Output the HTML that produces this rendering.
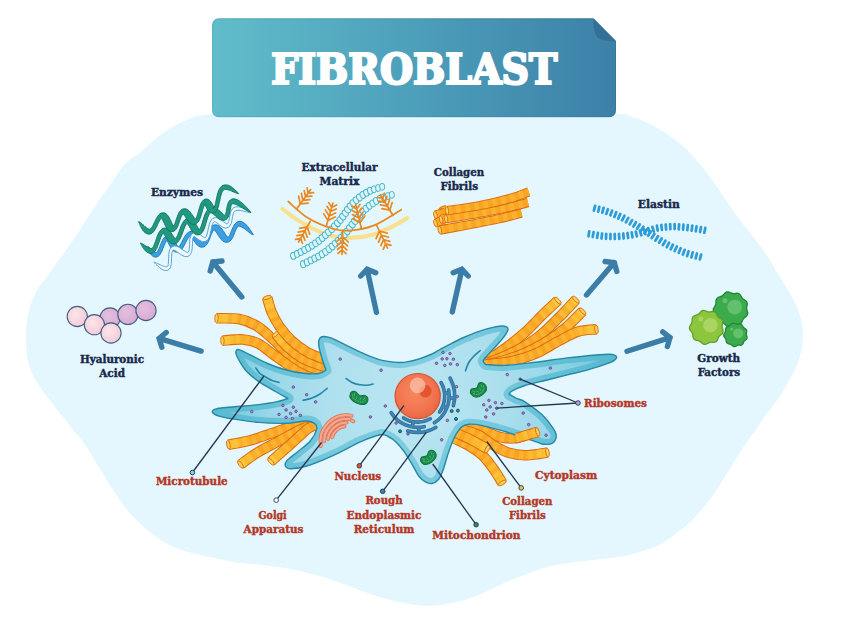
<!DOCTYPE html>
<html lang="en"><head><meta charset="utf-8"><title>Fibroblast</title>
<style>
html,body{margin:0;padding:0;background:#fff;}
body{width:848px;height:617px;overflow:hidden;}
svg{display:block;}
</style></head><body>
<svg width="848" height="617" viewBox="0 0 848 617">
<defs>
<linearGradient id="bn" x1="0" x2="1" y1="0" y2="0"><stop offset="0" stop-color="#61bdca"/><stop offset="0.5" stop-color="#4d9fba"/><stop offset="1" stop-color="#3c80a8"/></linearGradient>
<linearGradient id="bne" x1="0" x2="1" y1="0" y2="0"><stop offset="0" stop-color="#4aa6b6"/><stop offset="1" stop-color="#2f6c93"/></linearGradient>
<clipPath id="cc"><path d="M288 398.5C286.1 397.4 281.2 394.9 276.3 392C271.4 389.1 263.6 384.9 258.5 381.4C253.4 377.8 249.3 374.3 246 370.7C242.7 367.1 240.3 362.4 238.6 359.5C236.9 356.6 236.2 354.7 235.9 353.2C235.6 351.7 236.1 350.9 236.6 350.3C237.1 349.7 237 349 239.2 349.7C241.4 350.4 244.9 352.3 249.6 354.6C254.3 356.9 261.4 361 267.4 363.5C273.3 366 279.4 368.2 285.3 369.8C291.2 371.4 297.5 372.7 303.1 373.3C308.7 373.9 315.2 374.1 319 373.5C322.8 372.9 324.8 370.6 326 370C325.5 368.5 323.9 364.6 322.8 361C321.7 357.4 320 351.4 319.3 348.3C318.6 345.2 318.5 344.3 318.6 342.6C318.7 340.9 319.2 339 320 338C320.8 337 321.9 336.6 323.3 336.5C324.7 336.4 326.3 336.6 328.3 337.2C330.3 337.8 330.7 337.6 335.4 339.8C340.1 342 349.3 347.1 356.6 350.4C363.9 353.7 372.1 357.6 379.2 359.6C386.3 361.6 393.8 362.2 399 362.5C404.2 362.8 406.9 361.8 410.4 361.2C413.9 360.6 416.4 359.8 420 358.6C423.6 357.4 428.6 355.5 431.9 354C435.2 352.5 437.1 351.1 440 349.5C442.9 347.9 445.2 346.6 449.2 344.6C453.1 342.6 458.8 339.6 463.7 337.5C468.6 335.4 473.4 333.4 478.3 331.7C483.2 330 489 328.3 492.9 327.4C496.8 326.4 499.4 326.1 501.7 326C504 325.9 505.4 326.3 506.5 326.9C507.6 327.5 508.2 328.3 508 329.6C507.8 330.9 506.6 332.8 505.3 334.8C504 336.8 502.3 339 500.2 341.4C498.1 343.8 495.2 346.8 492.9 349.4C490.6 351.9 487.8 354.8 486.2 356.7C484.6 358.6 483.3 359.7 483.2 361C483.1 362.3 485.2 363.9 485.6 364.5C488.6 364.6 495.4 365.8 503.7 365.4C512 365 524.9 363.4 535.5 362.2C546.1 360.9 556.8 359.1 567.4 357.9C578 356.6 592.3 355.3 599.2 354.7C606.1 354.1 606.4 354.1 609 354.2C611.6 354.3 613.3 354.7 614.6 355.2C615.9 355.7 616.7 356.5 616.7 357.3C616.7 358.1 616 359 614.8 359.9C613.6 360.8 613.7 361.2 609.3 362.8C604.9 364.4 595.6 367.6 588.6 369.6C581.6 371.6 574.5 373.1 567.4 374.9C560.3 376.7 553.2 378.4 546.1 380.2C539 382 530.5 383.7 524.9 385.5C519.2 387.3 514.9 389.4 512.2 390.8C509.6 392.2 509.5 393.6 509 394.2C510.2 394.9 513.8 397 516.4 398.3C519 399.6 520.6 399.1 524.9 401.8C529.1 404.5 537.3 410.4 541.9 414.6C546.5 418.9 550.1 423.8 552.5 427.3C554.9 430.8 556.3 433.2 556.3 435.8C556.3 438.4 554.5 441.8 552.5 443.2C550.5 444.6 546.7 444.5 544 444.3C541.3 444.1 540.3 443.2 536.2 441.8C532.1 440.4 524.6 438 519.2 436.2C513.8 434.4 509.8 433 503.7 431.2C497.6 429.4 488.3 426.8 482.5 425.6C476.7 424.4 472.4 424 469 424.2C465.6 424.4 464 425.2 462 426.6C460 428 458.7 430.1 457.2 432.4C455.7 434.7 454.5 437 453 440.5C451.5 444 449.7 448.6 448.1 453.5C446.5 458.4 444.8 465.4 443.2 469.7C441.6 474 440.3 477.2 438.4 479.5C436.5 481.8 434.1 483.1 431.9 483.5C429.7 483.9 427.6 483.1 425.4 481.9C423.2 480.7 421.1 479 418.9 476.2C416.7 473.4 414.8 468.9 412.4 464.9C410 460.8 407 455.7 404.3 451.9C401.6 448.1 398.9 444.8 396.2 442.2C393.5 439.6 390.8 437.7 388.1 436.5C385.4 435.3 384.5 433.9 379.9 434.8C375.3 435.7 368 438.5 360.3 441.9C352.6 445.3 342.4 451.3 333.5 455.3C324.6 459.3 313.9 463.8 306.8 466C299.7 468.2 294.3 468.7 290.7 468.7C287.1 468.7 286 467.4 285.4 466C284.8 464.6 284.9 463 287 460.6C289.1 458.2 293.9 455 297.8 451.7C301.7 448.4 307.2 444.7 310.3 441C313.4 437.3 315.9 432.3 316.6 429.4C317.4 426.5 316.4 425 314.8 423.6C313.2 422.2 311.7 421.1 306.8 421C301.9 420.9 293.4 423.1 285.3 423.3C277.2 423.5 267.4 423.1 258.5 422.4C249.6 421.6 238.2 419.8 231.8 418.8C225.4 417.8 222.9 417.1 220 416.4C217.1 415.7 215.9 415.1 214.6 414.4C213.3 413.7 212.6 412.7 212.4 412C212.2 411.3 212.4 410.6 213.2 410C214 409.4 215.4 409 217 408.6C218.6 408.2 218.9 408.1 222.8 407.7C226.8 407.3 234.8 406.8 240.7 406.3C246.6 405.8 252.6 405.3 258.5 404.6C264.4 403.9 271.4 402.9 276.3 401.9C281.2 400.9 286.1 399.1 288 398.5Z"/></clipPath>
<radialGradient id="cg" gradientUnits="userSpaceOnUse" cx="410" cy="400" r="205" gradientTransform="translate(0 -80) scale(1 1.2)"><stop offset="0" stop-color="#bbe6f2"/><stop offset="0.4" stop-color="#aee0ee"/><stop offset="0.65" stop-color="#9cd9ea"/><stop offset="0.85" stop-color="#80cde0"/><stop offset="1" stop-color="#64c0d6"/></radialGradient>
<radialGradient id="cb" gradientUnits="userSpaceOnUse" cx="410" cy="400" r="205" gradientTransform="translate(0 -80) scale(1 1.2)"><stop offset="0" stop-color="#84cfe1"/><stop offset="0.45" stop-color="#74c7dc"/><stop offset="0.7" stop-color="#64c0d6"/><stop offset="1" stop-color="#56b9d0"/></radialGradient>
<radialGradient id="ng" cx="0.45" cy="0.42" r="0.62"><stop offset="0" stop-color="#f6895f"/><stop offset="0.65" stop-color="#f27550"/><stop offset="1" stop-color="#ea6440"/></radialGradient>
<radialGradient id="hp" cx="0.4" cy="0.4" r="0.7"><stop offset="0" stop-color="#fce6ec"/><stop offset="1" stop-color="#f2c6d6"/></radialGradient>
<radialGradient id="hv" cx="0.4" cy="0.4" r="0.7"><stop offset="0" stop-color="#e4bfdf"/><stop offset="1" stop-color="#d6a9d3"/></radialGradient>
</defs>
<rect width="848" height="617" fill="#ffffff"/>
<path d="M213.3 114C193.2 115.5 197.4 116 189.2 119.1C180.9 122.2 171.8 127.1 163.8 132.5C155.8 137.9 147.7 146.2 141.1 151.6C134.5 157 129.5 159 124.2 164.7C118.9 170.4 114.4 178.8 109.5 185.8C104.6 192.8 99.6 199.4 94.7 206.8C89.8 214.2 84.9 222.6 80 230C75.1 237.4 70 244.3 65.3 251C60.6 257.7 56 264.4 52 270C48 275.6 44.2 279.6 41 284.3C37.8 289.1 35.1 293.7 33 298.5C30.9 303.3 29.5 307.1 28.3 313C27.1 318.9 26.2 326.9 26 334C25.8 341.1 26.2 349.8 27 355.6C27.8 361.4 28.9 364.6 30.5 369C32.1 373.4 33.7 377.3 36.5 382C39.3 386.7 43.1 391.6 47.2 397.1C51.3 402.6 57 409.3 61.3 414.8C65.6 420.3 69.2 425.1 73.1 430C77 434.9 80.2 437.9 84.5 444.1C88.8 450.4 94.2 459.7 99.1 467.5C104 475.3 108.8 483.5 113.7 490.8C118.6 498.1 123 504.9 128.3 511.2C133.7 517.5 139.5 523.4 145.8 528.7C152.1 534.1 160 539.7 166.2 543.3C172.4 546.9 176 548.2 183 550.5C190 552.8 199.4 554.8 208.3 556.8C217.2 558.8 227.2 561.1 236.6 562.5C246 563.9 255.5 564.1 264.9 565.3C274.3 566.5 283.8 567.6 293.2 569.5C302.6 571.4 312.1 573.8 321.5 576.6C330.9 579.4 340.4 583.2 349.8 586.5C359.2 589.8 368.7 593.6 378.1 596.4C387.5 599.2 397.8 601.9 406.4 603.5C415 605.1 422.4 605.9 430 605.8C437.6 605.7 444.4 604.6 452 603C459.6 601.4 465.3 600.2 475.5 596.2C485.7 592.2 500.6 584.2 513.2 579.2C525.8 574.2 538.3 569.1 550.9 566C563.5 562.9 576.9 562 588.7 560.4C600.5 558.8 613.1 557.9 621.9 556.4C630.7 554.9 634.8 553.6 641.3 551.6C647.8 549.6 654.7 547.5 660.8 544.3C666.9 541 672.5 536.1 677.8 532.1C683.1 528.1 687.5 524.9 692.4 520C697.3 515.1 702.5 508.6 707 502.9C711.5 497.2 715.1 492 719.1 485.9C723.1 479.8 727.2 473 731.3 466.5C735.4 460 739.5 453.1 743.5 447C747.5 440.9 752.3 434.7 755.6 430C758.9 425.3 759.6 423.8 763.1 418.9C766.6 414 772.5 406.9 776.7 400.8C780.9 394.8 784.7 388.7 788.1 382.6C791.5 376.6 794.9 370.6 797.2 364.5C799.6 358.4 801.3 352.4 802.2 346.3C803.1 340.2 803.4 334.1 802.8 328.2C802.2 322.3 800.3 316.2 798.5 311C796.7 305.8 794.9 302.8 791.9 297.2C788.9 291.6 784.2 284.2 780.3 277.7C776.4 271.2 772.8 264.8 768.6 258.3C764.4 251.8 759.9 245.4 755 238.9C750.1 232.4 744.2 225.7 739.4 219.4C734.6 213.1 730.5 207.1 726.4 201.1C722.3 195.1 718.6 189.1 714.7 183.6C710.8 178.1 707 173 703.1 168.1C699.2 163.2 695.6 158.8 691.4 154.4C687.2 150 682.7 145.7 677.8 141.8C672.9 137.9 667.4 134.3 662.2 131.1C657 127.9 651.9 124.8 646.7 122.4C641.5 120 636.3 118 631.1 116.5C625.9 115 634.1 114.7 615.6 113.6C597.1 112.5 553.6 110.8 520 110C486.4 109.2 449 109 414 109C379 109 343.4 109.2 310 110C276.6 110.8 233.4 112.5 213.3 114Z" fill="#e4f7fe"/>
<path d="M219.1 18.8H593.5L615.5 41V110.2Q615.5 116.7 609 116.7H219.1Q212.6 116.7 212.6 110.2V25.3Q212.6 18.8 219.1 18.8Z" fill="url(#bn)" stroke="url(#bne)" stroke-width="0.9"/>
<path d="M593.5 18.8L615.5 41Q603 42 597.5 37.5Q593 32 593.5 18.8Z" fill="#346f98"/>
<text x="414.3" y="84.1" text-anchor="middle" font-family="'DejaVu Serif Condensed','DejaVu Serif','Liberation Serif',serif" font-weight="bold" font-size="42" fill="#fff" stroke="#fff" stroke-width="2.2" stroke-linejoin="miter" textLength="286" lengthAdjust="spacingAndGlyphs">FIBROBLAST</text>
<path d="M241.8 296.9L212.8 262M222 261L212.8 262L210.2 270.9" fill="none" stroke="#3b7da6" stroke-width="5.4" stroke-linecap="round" stroke-linejoin="miter" stroke-miterlimit="10"/>
<path d="M376.4 312.3L367.1 269.3M375.7 272.7L367.1 269.3L360.7 276" fill="none" stroke="#3b7da6" stroke-width="5.4" stroke-linecap="round" stroke-linejoin="miter" stroke-miterlimit="10"/>
<path d="M452.3 311.9L461.9 269.3M468.2 276L461.9 269.3L453.2 272.7" fill="none" stroke="#3b7da6" stroke-width="5.4" stroke-linecap="round" stroke-linejoin="miter" stroke-miterlimit="10"/>
<path d="M586.5 295L614.3 262.6M616.8 271.5L614.3 262.6L605.1 261.5" fill="none" stroke="#3b7da6" stroke-width="5.4" stroke-linecap="round" stroke-linejoin="miter" stroke-miterlimit="10"/>
<path d="M627 351.3L670 337.6M667.4 346.5L670 337.6L662.7 331.9" fill="none" stroke="#3b7da6" stroke-width="5.4" stroke-linecap="round" stroke-linejoin="miter" stroke-miterlimit="10"/>
<path d="M201.1 351.1L159.1 338.4M166.2 332.5L159.1 338.4L161.8 347.2" fill="none" stroke="#3b7da6" stroke-width="5.4" stroke-linecap="round" stroke-linejoin="miter" stroke-miterlimit="10"/>
<path d="M312 378C310.2 376.9 304.9 373.5 301.1 371.4C297.3 369.3 293.9 368.4 289.4 365.6C284.9 362.9 279.1 358.6 273.9 354.9C268.7 351.2 263.5 346.1 258.3 343.5C253.1 340.9 248.8 340 242.8 339.5C236.8 339 225.8 340.5 222.4 340.7" fill="none" stroke="#da6f12" stroke-width="10.6" stroke-linecap="butt"/>
<path d="M312 378C310.2 376.9 304.9 373.5 301.1 371.4C297.3 369.3 293.9 368.4 289.4 365.6C284.9 362.9 279.1 358.6 273.9 354.9C268.7 351.2 263.5 346.1 258.3 343.5C253.1 340.9 248.8 340 242.8 339.5C236.8 339 225.8 340.5 222.4 340.7" fill="none" stroke="#f9a522" stroke-width="8.4" stroke-linecap="butt"/>
<path d="M312 378C310.2 376.9 304.9 373.5 301.1 371.4C297.3 369.3 293.9 368.4 289.4 365.6C284.9 362.9 279.1 358.6 273.9 354.9C268.7 351.2 263.5 346.1 258.3 343.5C253.1 340.9 248.8 340 242.8 339.5C236.8 339 225.8 340.5 222.4 340.7" fill="none" stroke="#fbb230" stroke-width="8.4" stroke-dasharray="4.6 4.6" stroke-linecap="butt"/>
<path d="M312 378C310.2 376.9 304.9 373.5 301.1 371.4C297.3 369.3 293.9 368.4 289.4 365.6C284.9 362.9 279.1 358.6 273.9 354.9C268.7 351.2 263.5 346.1 258.3 343.5C253.1 340.9 248.8 340 242.8 339.5C236.8 339 225.8 340.5 222.4 340.7" fill="none" stroke="#ffe24f" stroke-opacity="0.18" stroke-width="8.4" stroke-dasharray="0 78.6 24"/>
<path d="M312 378C310.2 376.9 304.9 373.5 301.1 371.4C297.3 369.3 293.9 368.4 289.4 365.6C284.9 362.9 279.1 358.6 273.9 354.9C268.7 351.2 263.5 346.1 258.3 343.5C253.1 340.9 248.8 340 242.8 339.5C236.8 339 225.8 340.5 222.4 340.7" fill="none" stroke="#ffe24f" stroke-opacity="0.2" stroke-width="8.4" stroke-dasharray="0 88.6 14"/>
<path d="M312 378C310.2 376.9 304.9 373.5 301.1 371.4C297.3 369.3 293.9 368.4 289.4 365.6C284.9 362.9 279.1 358.6 273.9 354.9C268.7 351.2 263.5 346.1 258.3 343.5C253.1 340.9 248.8 340 242.8 339.5C236.8 339 225.8 340.5 222.4 340.7" fill="none" stroke="#ffe24f" stroke-opacity="0.22" stroke-width="8.4" stroke-dasharray="0 95.6 7"/>
<ellipse cx="222.4" cy="340.7" rx="1.7" ry="4.4" transform="rotate(-3.4 222.4 340.7)" fill="#fdd05c" stroke="#da6f12" stroke-width="0.9"/>
<path d="M330 374C328.8 373.6 326.7 373 322.5 371.4C318.3 369.8 310.8 367.7 305 364.6C299.2 361.5 293 357.3 287.5 352.9C282 348.5 277.1 342.8 271.9 338.3C266.7 333.8 261.9 328.9 256.4 325.7C250.9 322.5 245.6 320.2 238.9 319C232.2 317.8 220.2 318.4 216.5 318.3" fill="none" stroke="#da6f12" stroke-width="10.6" stroke-linecap="butt"/>
<path d="M330 374C328.8 373.6 326.7 373 322.5 371.4C318.3 369.8 310.8 367.7 305 364.6C299.2 361.5 293 357.3 287.5 352.9C282 348.5 277.1 342.8 271.9 338.3C266.7 333.8 261.9 328.9 256.4 325.7C250.9 322.5 245.6 320.2 238.9 319C232.2 317.8 220.2 318.4 216.5 318.3" fill="none" stroke="#f9a522" stroke-width="8.4" stroke-linecap="butt"/>
<path d="M330 374C328.8 373.6 326.7 373 322.5 371.4C318.3 369.8 310.8 367.7 305 364.6C299.2 361.5 293 357.3 287.5 352.9C282 348.5 277.1 342.8 271.9 338.3C266.7 333.8 261.9 328.9 256.4 325.7C250.9 322.5 245.6 320.2 238.9 319C232.2 317.8 220.2 318.4 216.5 318.3" fill="none" stroke="#fbb230" stroke-width="8.4" stroke-dasharray="4.6 4.6" stroke-linecap="butt"/>
<path d="M330 374C328.8 373.6 326.7 373 322.5 371.4C318.3 369.8 310.8 367.7 305 364.6C299.2 361.5 293 357.3 287.5 352.9C282 348.5 277.1 342.8 271.9 338.3C266.7 333.8 261.9 328.9 256.4 325.7C250.9 322.5 245.6 320.2 238.9 319C232.2 317.8 220.2 318.4 216.5 318.3" fill="none" stroke="#ffe24f" stroke-opacity="0.18" stroke-width="8.4" stroke-dasharray="0 108.5 24"/>
<path d="M330 374C328.8 373.6 326.7 373 322.5 371.4C318.3 369.8 310.8 367.7 305 364.6C299.2 361.5 293 357.3 287.5 352.9C282 348.5 277.1 342.8 271.9 338.3C266.7 333.8 261.9 328.9 256.4 325.7C250.9 322.5 245.6 320.2 238.9 319C232.2 317.8 220.2 318.4 216.5 318.3" fill="none" stroke="#ffe24f" stroke-opacity="0.2" stroke-width="8.4" stroke-dasharray="0 118.5 14"/>
<path d="M330 374C328.8 373.6 326.7 373 322.5 371.4C318.3 369.8 310.8 367.7 305 364.6C299.2 361.5 293 357.3 287.5 352.9C282 348.5 277.1 342.8 271.9 338.3C266.7 333.8 261.9 328.9 256.4 325.7C250.9 322.5 245.6 320.2 238.9 319C232.2 317.8 220.2 318.4 216.5 318.3" fill="none" stroke="#ffe24f" stroke-opacity="0.22" stroke-width="8.4" stroke-dasharray="0 125.5 7"/>
<ellipse cx="216.5" cy="318.3" rx="1.7" ry="4.4" transform="rotate(1.8 216.5 318.3)" fill="#fdd05c" stroke="#da6f12" stroke-width="0.9"/>
<path d="M330 369C328.4 368.4 325.1 367.3 320.6 365.6C316.1 363.9 308.5 361.8 303 358.7C297.5 355.6 292 351.1 287.5 347C283 342.9 277.8 336.2 275.8 334" fill="none" stroke="#da6f12" stroke-width="10.6" stroke-linecap="butt"/>
<path d="M330 369C328.4 368.4 325.1 367.3 320.6 365.6C316.1 363.9 308.5 361.8 303 358.7C297.5 355.6 292 351.1 287.5 347C283 342.9 277.8 336.2 275.8 334" fill="none" stroke="#f9a522" stroke-width="8.4" stroke-linecap="butt"/>
<path d="M330 369C328.4 368.4 325.1 367.3 320.6 365.6C316.1 363.9 308.5 361.8 303 358.7C297.5 355.6 292 351.1 287.5 347C283 342.9 277.8 336.2 275.8 334" fill="none" stroke="#fbb230" stroke-width="8.4" stroke-dasharray="4.6 4.6" stroke-linecap="butt"/>
<path d="M330 369C328.4 368.4 325.1 367.3 320.6 365.6C316.1 363.9 308.5 361.8 303 358.7C297.5 355.6 292 351.1 287.5 347C283 342.9 277.8 336.2 275.8 334" fill="none" stroke="#ffe24f" stroke-opacity="0.18" stroke-width="8.4" stroke-dasharray="0 43.9 24"/>
<path d="M330 369C328.4 368.4 325.1 367.3 320.6 365.6C316.1 363.9 308.5 361.8 303 358.7C297.5 355.6 292 351.1 287.5 347C283 342.9 277.8 336.2 275.8 334" fill="none" stroke="#ffe24f" stroke-opacity="0.2" stroke-width="8.4" stroke-dasharray="0 53.9 14"/>
<path d="M330 369C328.4 368.4 325.1 367.3 320.6 365.6C316.1 363.9 308.5 361.8 303 358.7C297.5 355.6 292 351.1 287.5 347C283 342.9 277.8 336.2 275.8 334" fill="none" stroke="#ffe24f" stroke-opacity="0.22" stroke-width="8.4" stroke-dasharray="0 60.9 7"/>
<ellipse cx="275.8" cy="334" rx="1.7" ry="4.4" transform="rotate(48 275.8 334)" fill="#fdd05c" stroke="#da6f12" stroke-width="0.9"/>
<path d="M330 361C328.4 360.5 324.4 359.3 320.6 357.8C316.8 356.3 311.9 354.9 307 352C302.1 349.1 295.9 344.5 291.4 340.3C286.8 336.1 282.9 331.2 279.7 326.7C276.5 322.1 274.1 317.9 272 313C269.9 308.1 267.9 300.1 267.1 297.5" fill="none" stroke="#da6f12" stroke-width="10.6" stroke-linecap="butt"/>
<path d="M330 361C328.4 360.5 324.4 359.3 320.6 357.8C316.8 356.3 311.9 354.9 307 352C302.1 349.1 295.9 344.5 291.4 340.3C286.8 336.1 282.9 331.2 279.7 326.7C276.5 322.1 274.1 317.9 272 313C269.9 308.1 267.9 300.1 267.1 297.5" fill="none" stroke="#f9a522" stroke-width="8.4" stroke-linecap="butt"/>
<path d="M330 361C328.4 360.5 324.4 359.3 320.6 357.8C316.8 356.3 311.9 354.9 307 352C302.1 349.1 295.9 344.5 291.4 340.3C286.8 336.1 282.9 331.2 279.7 326.7C276.5 322.1 274.1 317.9 272 313C269.9 308.1 267.9 300.1 267.1 297.5" fill="none" stroke="#fbb230" stroke-width="8.4" stroke-dasharray="4.6 4.6" stroke-linecap="butt"/>
<path d="M330 361C328.4 360.5 324.4 359.3 320.6 357.8C316.8 356.3 311.9 354.9 307 352C302.1 349.1 295.9 344.5 291.4 340.3C286.8 336.1 282.9 331.2 279.7 326.7C276.5 322.1 274.1 317.9 272 313C269.9 308.1 267.9 300.1 267.1 297.5" fill="none" stroke="#ffe24f" stroke-opacity="0.18" stroke-width="8.4" stroke-dasharray="0 72.3 24"/>
<path d="M330 361C328.4 360.5 324.4 359.3 320.6 357.8C316.8 356.3 311.9 354.9 307 352C302.1 349.1 295.9 344.5 291.4 340.3C286.8 336.1 282.9 331.2 279.7 326.7C276.5 322.1 274.1 317.9 272 313C269.9 308.1 267.9 300.1 267.1 297.5" fill="none" stroke="#ffe24f" stroke-opacity="0.2" stroke-width="8.4" stroke-dasharray="0 82.3 14"/>
<path d="M330 361C328.4 360.5 324.4 359.3 320.6 357.8C316.8 356.3 311.9 354.9 307 352C302.1 349.1 295.9 344.5 291.4 340.3C286.8 336.1 282.9 331.2 279.7 326.7C276.5 322.1 274.1 317.9 272 313C269.9 308.1 267.9 300.1 267.1 297.5" fill="none" stroke="#ffe24f" stroke-opacity="0.22" stroke-width="8.4" stroke-dasharray="0 89.3 7"/>
<ellipse cx="267.1" cy="297.5" rx="1.7" ry="4.4" transform="rotate(72.5 267.1 297.5)" fill="#fdd05c" stroke="#da6f12" stroke-width="0.9"/>
<path d="M484 362C485.1 361.3 486.9 360.5 490.9 357.9C494.9 355.3 502.2 350.5 507.9 346.3C513.6 342.1 519.2 337.6 524.9 332.5C530.6 327.4 536.4 320.8 541.9 315.5C547.4 310.2 555.1 303.1 557.8 300.6" fill="none" stroke="#da6f12" stroke-width="10.6" stroke-linecap="butt"/>
<path d="M484 362C485.1 361.3 486.9 360.5 490.9 357.9C494.9 355.3 502.2 350.5 507.9 346.3C513.6 342.1 519.2 337.6 524.9 332.5C530.6 327.4 536.4 320.8 541.9 315.5C547.4 310.2 555.1 303.1 557.8 300.6" fill="none" stroke="#f9a522" stroke-width="8.4" stroke-linecap="butt"/>
<path d="M484 362C485.1 361.3 486.9 360.5 490.9 357.9C494.9 355.3 502.2 350.5 507.9 346.3C513.6 342.1 519.2 337.6 524.9 332.5C530.6 327.4 536.4 320.8 541.9 315.5C547.4 310.2 555.1 303.1 557.8 300.6" fill="none" stroke="#fbb230" stroke-width="8.4" stroke-dasharray="4.6 4.6" stroke-linecap="butt"/>
<path d="M484 362C485.1 361.3 486.9 360.5 490.9 357.9C494.9 355.3 502.2 350.5 507.9 346.3C513.6 342.1 519.2 337.6 524.9 332.5C530.6 327.4 536.4 320.8 541.9 315.5C547.4 310.2 555.1 303.1 557.8 300.6" fill="none" stroke="#ffe24f" stroke-opacity="0.18" stroke-width="8.4" stroke-dasharray="0 74.4 24"/>
<path d="M484 362C485.1 361.3 486.9 360.5 490.9 357.9C494.9 355.3 502.2 350.5 507.9 346.3C513.6 342.1 519.2 337.6 524.9 332.5C530.6 327.4 536.4 320.8 541.9 315.5C547.4 310.2 555.1 303.1 557.8 300.6" fill="none" stroke="#ffe24f" stroke-opacity="0.2" stroke-width="8.4" stroke-dasharray="0 84.4 14"/>
<path d="M484 362C485.1 361.3 486.9 360.5 490.9 357.9C494.9 355.3 502.2 350.5 507.9 346.3C513.6 342.1 519.2 337.6 524.9 332.5C530.6 327.4 536.4 320.8 541.9 315.5C547.4 310.2 555.1 303.1 557.8 300.6" fill="none" stroke="#ffe24f" stroke-opacity="0.22" stroke-width="8.4" stroke-dasharray="0 91.4 7"/>
<ellipse cx="557.8" cy="300.6" rx="1.7" ry="4.4" transform="rotate(136.9 557.8 300.6)" fill="#fdd05c" stroke="#da6f12" stroke-width="0.9"/>
<path d="M484 364C485.9 363.3 489.4 362.4 495.2 360C500.9 357.6 511.1 353.5 518.5 349.4C525.9 345.3 533.1 340.9 539.8 335.6C546.5 330.3 552.9 323.6 558.9 317.6C564.9 311.6 573.1 302.6 575.9 299.6" fill="none" stroke="#da6f12" stroke-width="10.6" stroke-linecap="butt"/>
<path d="M484 364C485.9 363.3 489.4 362.4 495.2 360C500.9 357.6 511.1 353.5 518.5 349.4C525.9 345.3 533.1 340.9 539.8 335.6C546.5 330.3 552.9 323.6 558.9 317.6C564.9 311.6 573.1 302.6 575.9 299.6" fill="none" stroke="#f9a522" stroke-width="8.4" stroke-linecap="butt"/>
<path d="M484 364C485.9 363.3 489.4 362.4 495.2 360C500.9 357.6 511.1 353.5 518.5 349.4C525.9 345.3 533.1 340.9 539.8 335.6C546.5 330.3 552.9 323.6 558.9 317.6C564.9 311.6 573.1 302.6 575.9 299.6" fill="none" stroke="#fbb230" stroke-width="8.4" stroke-dasharray="4.6 4.6" stroke-linecap="butt"/>
<path d="M484 364C485.9 363.3 489.4 362.4 495.2 360C500.9 357.6 511.1 353.5 518.5 349.4C525.9 345.3 533.1 340.9 539.8 335.6C546.5 330.3 552.9 323.6 558.9 317.6C564.9 311.6 573.1 302.6 575.9 299.6" fill="none" stroke="#ffe24f" stroke-opacity="0.18" stroke-width="8.4" stroke-dasharray="0 91.9 24"/>
<path d="M484 364C485.9 363.3 489.4 362.4 495.2 360C500.9 357.6 511.1 353.5 518.5 349.4C525.9 345.3 533.1 340.9 539.8 335.6C546.5 330.3 552.9 323.6 558.9 317.6C564.9 311.6 573.1 302.6 575.9 299.6" fill="none" stroke="#ffe24f" stroke-opacity="0.2" stroke-width="8.4" stroke-dasharray="0 101.9 14"/>
<path d="M484 364C485.9 363.3 489.4 362.4 495.2 360C500.9 357.6 511.1 353.5 518.5 349.4C525.9 345.3 533.1 340.9 539.8 335.6C546.5 330.3 552.9 323.6 558.9 317.6C564.9 311.6 573.1 302.6 575.9 299.6" fill="none" stroke="#ffe24f" stroke-opacity="0.22" stroke-width="8.4" stroke-dasharray="0 108.9 7"/>
<ellipse cx="575.9" cy="299.6" rx="1.7" ry="4.4" transform="rotate(133.4 575.9 299.6)" fill="#fdd05c" stroke="#da6f12" stroke-width="0.9"/>
<path d="M484 365C486.2 364.5 491.2 363.9 497.3 362.2C503.4 360.5 512.9 357.9 520.7 354.7C528.5 351.5 536.6 347.5 544 343.1C551.4 338.7 558.8 333.5 565.2 328.2C571.6 322.9 579.7 314 582.6 311.2" fill="none" stroke="#da6f12" stroke-width="10.6" stroke-linecap="butt"/>
<path d="M484 365C486.2 364.5 491.2 363.9 497.3 362.2C503.4 360.5 512.9 357.9 520.7 354.7C528.5 351.5 536.6 347.5 544 343.1C551.4 338.7 558.8 333.5 565.2 328.2C571.6 322.9 579.7 314 582.6 311.2" fill="none" stroke="#f9a522" stroke-width="8.4" stroke-linecap="butt"/>
<path d="M484 365C486.2 364.5 491.2 363.9 497.3 362.2C503.4 360.5 512.9 357.9 520.7 354.7C528.5 351.5 536.6 347.5 544 343.1C551.4 338.7 558.8 333.5 565.2 328.2C571.6 322.9 579.7 314 582.6 311.2" fill="none" stroke="#fbb230" stroke-width="8.4" stroke-dasharray="4.6 4.6" stroke-linecap="butt"/>
<path d="M484 365C486.2 364.5 491.2 363.9 497.3 362.2C503.4 360.5 512.9 357.9 520.7 354.7C528.5 351.5 536.6 347.5 544 343.1C551.4 338.7 558.8 333.5 565.2 328.2C571.6 322.9 579.7 314 582.6 311.2" fill="none" stroke="#ffe24f" stroke-opacity="0.18" stroke-width="8.4" stroke-dasharray="0 92.5 24"/>
<path d="M484 365C486.2 364.5 491.2 363.9 497.3 362.2C503.4 360.5 512.9 357.9 520.7 354.7C528.5 351.5 536.6 347.5 544 343.1C551.4 338.7 558.8 333.5 565.2 328.2C571.6 322.9 579.7 314 582.6 311.2" fill="none" stroke="#ffe24f" stroke-opacity="0.2" stroke-width="8.4" stroke-dasharray="0 102.5 14"/>
<path d="M484 365C486.2 364.5 491.2 363.9 497.3 362.2C503.4 360.5 512.9 357.9 520.7 354.7C528.5 351.5 536.6 347.5 544 343.1C551.4 338.7 558.8 333.5 565.2 328.2C571.6 322.9 579.7 314 582.6 311.2" fill="none" stroke="#ffe24f" stroke-opacity="0.22" stroke-width="8.4" stroke-dasharray="0 109.5 7"/>
<ellipse cx="582.6" cy="311.2" rx="1.7" ry="4.4" transform="rotate(135.7 582.6 311.2)" fill="#fdd05c" stroke="#da6f12" stroke-width="0.9"/>
<path d="M484 365C485.9 364.7 490.5 364 495.2 363.4C499.9 362.8 505.5 362.7 512.2 361.1C518.9 359.5 527.7 357.1 535.5 353.7C543.3 350.3 551.8 344.6 558.9 340.9C566 337.2 571.8 333.5 578 331.6C584.2 329.7 593.3 329.7 596.4 329.3" fill="none" stroke="#da6f12" stroke-width="10.6" stroke-linecap="butt"/>
<path d="M484 365C485.9 364.7 490.5 364 495.2 363.4C499.9 362.8 505.5 362.7 512.2 361.1C518.9 359.5 527.7 357.1 535.5 353.7C543.3 350.3 551.8 344.6 558.9 340.9C566 337.2 571.8 333.5 578 331.6C584.2 329.7 593.3 329.7 596.4 329.3" fill="none" stroke="#f9a522" stroke-width="8.4" stroke-linecap="butt"/>
<path d="M484 365C485.9 364.7 490.5 364 495.2 363.4C499.9 362.8 505.5 362.7 512.2 361.1C518.9 359.5 527.7 357.1 535.5 353.7C543.3 350.3 551.8 344.6 558.9 340.9C566 337.2 571.8 333.5 578 331.6C584.2 329.7 593.3 329.7 596.4 329.3" fill="none" stroke="#fbb230" stroke-width="8.4" stroke-dasharray="4.6 4.6" stroke-linecap="butt"/>
<path d="M484 365C485.9 364.7 490.5 364 495.2 363.4C499.9 362.8 505.5 362.7 512.2 361.1C518.9 359.5 527.7 357.1 535.5 353.7C543.3 350.3 551.8 344.6 558.9 340.9C566 337.2 571.8 333.5 578 331.6C584.2 329.7 593.3 329.7 596.4 329.3" fill="none" stroke="#ffe24f" stroke-opacity="0.18" stroke-width="8.4" stroke-dasharray="0 97.5 24"/>
<path d="M484 365C485.9 364.7 490.5 364 495.2 363.4C499.9 362.8 505.5 362.7 512.2 361.1C518.9 359.5 527.7 357.1 535.5 353.7C543.3 350.3 551.8 344.6 558.9 340.9C566 337.2 571.8 333.5 578 331.6C584.2 329.7 593.3 329.7 596.4 329.3" fill="none" stroke="#ffe24f" stroke-opacity="0.2" stroke-width="8.4" stroke-dasharray="0 107.5 14"/>
<path d="M484 365C485.9 364.7 490.5 364 495.2 363.4C499.9 362.8 505.5 362.7 512.2 361.1C518.9 359.5 527.7 357.1 535.5 353.7C543.3 350.3 551.8 344.6 558.9 340.9C566 337.2 571.8 333.5 578 331.6C584.2 329.7 593.3 329.7 596.4 329.3" fill="none" stroke="#ffe24f" stroke-opacity="0.22" stroke-width="8.4" stroke-dasharray="0 114.5 7"/>
<ellipse cx="596.4" cy="329.3" rx="1.7" ry="4.4" transform="rotate(172.9 596.4 329.3)" fill="#fdd05c" stroke="#da6f12" stroke-width="0.9"/>
<path d="M318 423C315.9 423.2 309.8 423.6 305.6 424.2C301.4 424.8 298.5 424.8 292.8 426.3C287.1 427.8 278.7 431 271.6 433.3C264.5 435.6 257.6 438.5 250.4 440.4C243.2 442.3 232.1 444 228.4 444.7" fill="none" stroke="#da6f12" stroke-width="10.6" stroke-linecap="butt"/>
<path d="M318 423C315.9 423.2 309.8 423.6 305.6 424.2C301.4 424.8 298.5 424.8 292.8 426.3C287.1 427.8 278.7 431 271.6 433.3C264.5 435.6 257.6 438.5 250.4 440.4C243.2 442.3 232.1 444 228.4 444.7" fill="none" stroke="#f9a522" stroke-width="8.4" stroke-linecap="butt"/>
<path d="M318 423C315.9 423.2 309.8 423.6 305.6 424.2C301.4 424.8 298.5 424.8 292.8 426.3C287.1 427.8 278.7 431 271.6 433.3C264.5 435.6 257.6 438.5 250.4 440.4C243.2 442.3 232.1 444 228.4 444.7" fill="none" stroke="#fbb230" stroke-width="8.4" stroke-dasharray="4.6 4.6" stroke-linecap="butt"/>
<path d="M318 423C315.9 423.2 309.8 423.6 305.6 424.2C301.4 424.8 298.5 424.8 292.8 426.3C287.1 427.8 278.7 431 271.6 433.3C264.5 435.6 257.6 438.5 250.4 440.4C243.2 442.3 232.1 444 228.4 444.7" fill="none" stroke="#ffe24f" stroke-opacity="0.18" stroke-width="8.4" stroke-dasharray="0 70.6 24"/>
<path d="M318 423C315.9 423.2 309.8 423.6 305.6 424.2C301.4 424.8 298.5 424.8 292.8 426.3C287.1 427.8 278.7 431 271.6 433.3C264.5 435.6 257.6 438.5 250.4 440.4C243.2 442.3 232.1 444 228.4 444.7" fill="none" stroke="#ffe24f" stroke-opacity="0.2" stroke-width="8.4" stroke-dasharray="0 80.6 14"/>
<path d="M318 423C315.9 423.2 309.8 423.6 305.6 424.2C301.4 424.8 298.5 424.8 292.8 426.3C287.1 427.8 278.7 431 271.6 433.3C264.5 435.6 257.6 438.5 250.4 440.4C243.2 442.3 232.1 444 228.4 444.7" fill="none" stroke="#ffe24f" stroke-opacity="0.22" stroke-width="8.4" stroke-dasharray="0 87.6 7"/>
<ellipse cx="228.4" cy="444.7" rx="1.7" ry="4.4" transform="rotate(-11.1 228.4 444.7)" fill="#fdd05c" stroke="#da6f12" stroke-width="0.9"/>
<path d="M318 424C316.4 424.5 311.4 426 308.4 427C305.4 428 304.8 427.4 299.9 429.8C294.9 432.2 285.8 437.3 278.7 441.1C271.6 444.9 263.9 448.6 257.5 452.5C251.1 456.4 243.3 462.5 240.5 464.5" fill="none" stroke="#da6f12" stroke-width="10.6" stroke-linecap="butt"/>
<path d="M318 424C316.4 424.5 311.4 426 308.4 427C305.4 428 304.8 427.4 299.9 429.8C294.9 432.2 285.8 437.3 278.7 441.1C271.6 444.9 263.9 448.6 257.5 452.5C251.1 456.4 243.3 462.5 240.5 464.5" fill="none" stroke="#f9a522" stroke-width="8.4" stroke-linecap="butt"/>
<path d="M318 424C316.4 424.5 311.4 426 308.4 427C305.4 428 304.8 427.4 299.9 429.8C294.9 432.2 285.8 437.3 278.7 441.1C271.6 444.9 263.9 448.6 257.5 452.5C251.1 456.4 243.3 462.5 240.5 464.5" fill="none" stroke="#fbb230" stroke-width="8.4" stroke-dasharray="4.6 4.6" stroke-linecap="butt"/>
<path d="M318 424C316.4 424.5 311.4 426 308.4 427C305.4 428 304.8 427.4 299.9 429.8C294.9 432.2 285.8 437.3 278.7 441.1C271.6 444.9 263.9 448.6 257.5 452.5C251.1 456.4 243.3 462.5 240.5 464.5" fill="none" stroke="#ffe24f" stroke-opacity="0.18" stroke-width="8.4" stroke-dasharray="0 65.9 24"/>
<path d="M318 424C316.4 424.5 311.4 426 308.4 427C305.4 428 304.8 427.4 299.9 429.8C294.9 432.2 285.8 437.3 278.7 441.1C271.6 444.9 263.9 448.6 257.5 452.5C251.1 456.4 243.3 462.5 240.5 464.5" fill="none" stroke="#ffe24f" stroke-opacity="0.2" stroke-width="8.4" stroke-dasharray="0 75.9 14"/>
<path d="M318 424C316.4 424.5 311.4 426 308.4 427C305.4 428 304.8 427.4 299.9 429.8C294.9 432.2 285.8 437.3 278.7 441.1C271.6 444.9 263.9 448.6 257.5 452.5C251.1 456.4 243.3 462.5 240.5 464.5" fill="none" stroke="#ffe24f" stroke-opacity="0.22" stroke-width="8.4" stroke-dasharray="0 82.9 7"/>
<ellipse cx="240.5" cy="464.5" rx="1.7" ry="4.4" transform="rotate(-35.2 240.5 464.5)" fill="#fdd05c" stroke="#da6f12" stroke-width="0.9"/>
<path d="M318 424C316.4 424.7 311.9 426 308.4 428.4C304.9 430.8 301.4 434.5 297.1 438.3C292.9 442.1 287.3 447.1 282.9 451C278.5 454.9 272.9 459.8 270.9 461.6" fill="none" stroke="#da6f12" stroke-width="10.6" stroke-linecap="butt"/>
<path d="M318 424C316.4 424.7 311.9 426 308.4 428.4C304.9 430.8 301.4 434.5 297.1 438.3C292.9 442.1 287.3 447.1 282.9 451C278.5 454.9 272.9 459.8 270.9 461.6" fill="none" stroke="#f9a522" stroke-width="8.4" stroke-linecap="butt"/>
<path d="M318 424C316.4 424.7 311.9 426 308.4 428.4C304.9 430.8 301.4 434.5 297.1 438.3C292.9 442.1 287.3 447.1 282.9 451C278.5 454.9 272.9 459.8 270.9 461.6" fill="none" stroke="#fbb230" stroke-width="8.4" stroke-dasharray="4.6 4.6" stroke-linecap="butt"/>
<path d="M318 424C316.4 424.7 311.9 426 308.4 428.4C304.9 430.8 301.4 434.5 297.1 438.3C292.9 442.1 287.3 447.1 282.9 451C278.5 454.9 272.9 459.8 270.9 461.6" fill="none" stroke="#ffe24f" stroke-opacity="0.18" stroke-width="8.4" stroke-dasharray="0 38.7 24"/>
<path d="M318 424C316.4 424.7 311.9 426 308.4 428.4C304.9 430.8 301.4 434.5 297.1 438.3C292.9 442.1 287.3 447.1 282.9 451C278.5 454.9 272.9 459.8 270.9 461.6" fill="none" stroke="#ffe24f" stroke-opacity="0.2" stroke-width="8.4" stroke-dasharray="0 48.7 14"/>
<path d="M318 424C316.4 424.7 311.9 426 308.4 428.4C304.9 430.8 301.4 434.5 297.1 438.3C292.9 442.1 287.3 447.1 282.9 451C278.5 454.9 272.9 459.8 270.9 461.6" fill="none" stroke="#ffe24f" stroke-opacity="0.22" stroke-width="8.4" stroke-dasharray="0 55.7 7"/>
<ellipse cx="270.9" cy="461.6" rx="1.7" ry="4.4" transform="rotate(-41.5 270.9 461.6)" fill="#fdd05c" stroke="#da6f12" stroke-width="0.9"/>
<path d="M456 424C457.6 424.5 461.1 425.9 465.5 427C469.9 428.1 476.9 428.9 482.5 430.5C488.1 432.1 494.2 435.6 499.4 436.9C504.6 438.2 508.9 438.6 513.6 438.3C518.3 438 523.7 435.9 527.7 434.8C531.7 433.7 536 432.4 537.6 431.9" fill="none" stroke="#da6f12" stroke-width="10.6" stroke-linecap="butt"/>
<path d="M456 424C457.6 424.5 461.1 425.9 465.5 427C469.9 428.1 476.9 428.9 482.5 430.5C488.1 432.1 494.2 435.6 499.4 436.9C504.6 438.2 508.9 438.6 513.6 438.3C518.3 438 523.7 435.9 527.7 434.8C531.7 433.7 536 432.4 537.6 431.9" fill="none" stroke="#f9a522" stroke-width="8.4" stroke-linecap="butt"/>
<path d="M456 424C457.6 424.5 461.1 425.9 465.5 427C469.9 428.1 476.9 428.9 482.5 430.5C488.1 432.1 494.2 435.6 499.4 436.9C504.6 438.2 508.9 438.6 513.6 438.3C518.3 438 523.7 435.9 527.7 434.8C531.7 433.7 536 432.4 537.6 431.9" fill="none" stroke="#fbb230" stroke-width="8.4" stroke-dasharray="4.6 4.6" stroke-linecap="butt"/>
<path d="M456 424C457.6 424.5 461.1 425.9 465.5 427C469.9 428.1 476.9 428.9 482.5 430.5C488.1 432.1 494.2 435.6 499.4 436.9C504.6 438.2 508.9 438.6 513.6 438.3C518.3 438 523.7 435.9 527.7 434.8C531.7 433.7 536 432.4 537.6 431.9" fill="none" stroke="#ffe24f" stroke-opacity="0.18" stroke-width="8.4" stroke-dasharray="0 62.6 24"/>
<path d="M456 424C457.6 424.5 461.1 425.9 465.5 427C469.9 428.1 476.9 428.9 482.5 430.5C488.1 432.1 494.2 435.6 499.4 436.9C504.6 438.2 508.9 438.6 513.6 438.3C518.3 438 523.7 435.9 527.7 434.8C531.7 433.7 536 432.4 537.6 431.9" fill="none" stroke="#ffe24f" stroke-opacity="0.2" stroke-width="8.4" stroke-dasharray="0 72.6 14"/>
<path d="M456 424C457.6 424.5 461.1 425.9 465.5 427C469.9 428.1 476.9 428.9 482.5 430.5C488.1 432.1 494.2 435.6 499.4 436.9C504.6 438.2 508.9 438.6 513.6 438.3C518.3 438 523.7 435.9 527.7 434.8C531.7 433.7 536 432.4 537.6 431.9" fill="none" stroke="#ffe24f" stroke-opacity="0.22" stroke-width="8.4" stroke-dasharray="0 79.6 7"/>
<ellipse cx="537.6" cy="431.9" rx="1.7" ry="4.4" transform="rotate(163.7 537.6 431.9)" fill="#fdd05c" stroke="#da6f12" stroke-width="0.9"/>
<path d="M452 426C453.5 426.5 456.8 427.6 461.2 429.1C465.6 430.6 472.8 432.1 478.2 434.8C483.6 437.5 488.9 442.4 493.8 445.4C498.8 448.3 502.7 450.9 507.9 452.5C513.1 454.1 519.7 455.1 524.9 455.3C530.1 455.5 535.2 454.4 539 453.9C542.8 453.4 546.1 452.7 547.5 452.5" fill="none" stroke="#da6f12" stroke-width="10.6" stroke-linecap="butt"/>
<path d="M452 426C453.5 426.5 456.8 427.6 461.2 429.1C465.6 430.6 472.8 432.1 478.2 434.8C483.6 437.5 488.9 442.4 493.8 445.4C498.8 448.3 502.7 450.9 507.9 452.5C513.1 454.1 519.7 455.1 524.9 455.3C530.1 455.5 535.2 454.4 539 453.9C542.8 453.4 546.1 452.7 547.5 452.5" fill="none" stroke="#f9a522" stroke-width="8.4" stroke-linecap="butt"/>
<path d="M452 426C453.5 426.5 456.8 427.6 461.2 429.1C465.6 430.6 472.8 432.1 478.2 434.8C483.6 437.5 488.9 442.4 493.8 445.4C498.8 448.3 502.7 450.9 507.9 452.5C513.1 454.1 519.7 455.1 524.9 455.3C530.1 455.5 535.2 454.4 539 453.9C542.8 453.4 546.1 452.7 547.5 452.5" fill="none" stroke="#fbb230" stroke-width="8.4" stroke-dasharray="4.6 4.6" stroke-linecap="butt"/>
<path d="M452 426C453.5 426.5 456.8 427.6 461.2 429.1C465.6 430.6 472.8 432.1 478.2 434.8C483.6 437.5 488.9 442.4 493.8 445.4C498.8 448.3 502.7 450.9 507.9 452.5C513.1 454.1 519.7 455.1 524.9 455.3C530.1 455.5 535.2 454.4 539 453.9C542.8 453.4 546.1 452.7 547.5 452.5" fill="none" stroke="#ffe24f" stroke-opacity="0.18" stroke-width="8.4" stroke-dasharray="0 80.4 24"/>
<path d="M452 426C453.5 426.5 456.8 427.6 461.2 429.1C465.6 430.6 472.8 432.1 478.2 434.8C483.6 437.5 488.9 442.4 493.8 445.4C498.8 448.3 502.7 450.9 507.9 452.5C513.1 454.1 519.7 455.1 524.9 455.3C530.1 455.5 535.2 454.4 539 453.9C542.8 453.4 546.1 452.7 547.5 452.5" fill="none" stroke="#ffe24f" stroke-opacity="0.2" stroke-width="8.4" stroke-dasharray="0 90.4 14"/>
<path d="M452 426C453.5 426.5 456.8 427.6 461.2 429.1C465.6 430.6 472.8 432.1 478.2 434.8C483.6 437.5 488.9 442.4 493.8 445.4C498.8 448.3 502.7 450.9 507.9 452.5C513.1 454.1 519.7 455.1 524.9 455.3C530.1 455.5 535.2 454.4 539 453.9C542.8 453.4 546.1 452.7 547.5 452.5" fill="none" stroke="#ffe24f" stroke-opacity="0.22" stroke-width="8.4" stroke-dasharray="0 97.4 7"/>
<ellipse cx="547.5" cy="452.5" rx="1.7" ry="4.4" transform="rotate(170.6 547.5 452.5)" fill="#fdd05c" stroke="#da6f12" stroke-width="0.9"/>
<path d="M447 432C448.2 433.1 450.6 436.1 454.2 438.3C457.8 440.5 463.6 442.6 468.3 445.4C473 448.2 478.2 451.3 482.5 455.3C486.8 459.3 490.5 464.8 493.8 469.4C497.1 474 500.9 480.6 502.3 482.9" fill="none" stroke="#da6f12" stroke-width="10.6" stroke-linecap="butt"/>
<path d="M447 432C448.2 433.1 450.6 436.1 454.2 438.3C457.8 440.5 463.6 442.6 468.3 445.4C473 448.2 478.2 451.3 482.5 455.3C486.8 459.3 490.5 464.8 493.8 469.4C497.1 474 500.9 480.6 502.3 482.9" fill="none" stroke="#f9a522" stroke-width="8.4" stroke-linecap="butt"/>
<path d="M447 432C448.2 433.1 450.6 436.1 454.2 438.3C457.8 440.5 463.6 442.6 468.3 445.4C473 448.2 478.2 451.3 482.5 455.3C486.8 459.3 490.5 464.8 493.8 469.4C497.1 474 500.9 480.6 502.3 482.9" fill="none" stroke="#fbb230" stroke-width="8.4" stroke-dasharray="4.6 4.6" stroke-linecap="butt"/>
<path d="M447 432C448.2 433.1 450.6 436.1 454.2 438.3C457.8 440.5 463.6 442.6 468.3 445.4C473 448.2 478.2 451.3 482.5 455.3C486.8 459.3 490.5 464.8 493.8 469.4C497.1 474 500.9 480.6 502.3 482.9" fill="none" stroke="#ffe24f" stroke-opacity="0.18" stroke-width="8.4" stroke-dasharray="0 54.8 24"/>
<path d="M447 432C448.2 433.1 450.6 436.1 454.2 438.3C457.8 440.5 463.6 442.6 468.3 445.4C473 448.2 478.2 451.3 482.5 455.3C486.8 459.3 490.5 464.8 493.8 469.4C497.1 474 500.9 480.6 502.3 482.9" fill="none" stroke="#ffe24f" stroke-opacity="0.2" stroke-width="8.4" stroke-dasharray="0 64.8 14"/>
<path d="M447 432C448.2 433.1 450.6 436.1 454.2 438.3C457.8 440.5 463.6 442.6 468.3 445.4C473 448.2 478.2 451.3 482.5 455.3C486.8 459.3 490.5 464.8 493.8 469.4C497.1 474 500.9 480.6 502.3 482.9" fill="none" stroke="#ffe24f" stroke-opacity="0.22" stroke-width="8.4" stroke-dasharray="0 71.8 7"/>
<ellipse cx="502.3" cy="482.9" rx="1.7" ry="4.4" transform="rotate(-122.2 502.3 482.9)" fill="#fdd05c" stroke="#da6f12" stroke-width="0.9"/>
<path d="M448 429C449.5 429.7 453.1 431.5 457 433.3C460.9 435.1 466 437.1 471.1 439.7C476.2 442.3 484.7 447.4 487.4 448.9" fill="none" stroke="#da6f12" stroke-width="10.6" stroke-linecap="butt"/>
<path d="M448 429C449.5 429.7 453.1 431.5 457 433.3C460.9 435.1 466 437.1 471.1 439.7C476.2 442.3 484.7 447.4 487.4 448.9" fill="none" stroke="#f9a522" stroke-width="8.4" stroke-linecap="butt"/>
<path d="M448 429C449.5 429.7 453.1 431.5 457 433.3C460.9 435.1 466 437.1 471.1 439.7C476.2 442.3 484.7 447.4 487.4 448.9" fill="none" stroke="#fbb230" stroke-width="8.4" stroke-dasharray="4.6 4.6" stroke-linecap="butt"/>
<path d="M448 429C449.5 429.7 453.1 431.5 457 433.3C460.9 435.1 466 437.1 471.1 439.7C476.2 442.3 484.7 447.4 487.4 448.9" fill="none" stroke="#ffe24f" stroke-opacity="0.18" stroke-width="8.4" stroke-dasharray="0 22.2 24"/>
<path d="M448 429C449.5 429.7 453.1 431.5 457 433.3C460.9 435.1 466 437.1 471.1 439.7C476.2 442.3 484.7 447.4 487.4 448.9" fill="none" stroke="#ffe24f" stroke-opacity="0.2" stroke-width="8.4" stroke-dasharray="0 32.2 14"/>
<path d="M448 429C449.5 429.7 453.1 431.5 457 433.3C460.9 435.1 466 437.1 471.1 439.7C476.2 442.3 484.7 447.4 487.4 448.9" fill="none" stroke="#ffe24f" stroke-opacity="0.22" stroke-width="8.4" stroke-dasharray="0 39.2 7"/>
<ellipse cx="487.4" cy="448.9" rx="1.7" ry="4.4" transform="rotate(-150.6 487.4 448.9)" fill="#fdd05c" stroke="#da6f12" stroke-width="0.9"/>
<path d="M288 398.5C286.1 397.4 281.2 394.9 276.3 392C271.4 389.1 263.6 384.9 258.5 381.4C253.4 377.8 249.3 374.3 246 370.7C242.7 367.1 240.3 362.4 238.6 359.5C236.9 356.6 236.2 354.7 235.9 353.2C235.6 351.7 236.1 350.9 236.6 350.3C237.1 349.7 237 349 239.2 349.7C241.4 350.4 244.9 352.3 249.6 354.6C254.3 356.9 261.4 361 267.4 363.5C273.3 366 279.4 368.2 285.3 369.8C291.2 371.4 297.5 372.7 303.1 373.3C308.7 373.9 315.2 374.1 319 373.5C322.8 372.9 324.8 370.6 326 370C325.5 368.5 323.9 364.6 322.8 361C321.7 357.4 320 351.4 319.3 348.3C318.6 345.2 318.5 344.3 318.6 342.6C318.7 340.9 319.2 339 320 338C320.8 337 321.9 336.6 323.3 336.5C324.7 336.4 326.3 336.6 328.3 337.2C330.3 337.8 330.7 337.6 335.4 339.8C340.1 342 349.3 347.1 356.6 350.4C363.9 353.7 372.1 357.6 379.2 359.6C386.3 361.6 393.8 362.2 399 362.5C404.2 362.8 406.9 361.8 410.4 361.2C413.9 360.6 416.4 359.8 420 358.6C423.6 357.4 428.6 355.5 431.9 354C435.2 352.5 437.1 351.1 440 349.5C442.9 347.9 445.2 346.6 449.2 344.6C453.1 342.6 458.8 339.6 463.7 337.5C468.6 335.4 473.4 333.4 478.3 331.7C483.2 330 489 328.3 492.9 327.4C496.8 326.4 499.4 326.1 501.7 326C504 325.9 505.4 326.3 506.5 326.9C507.6 327.5 508.2 328.3 508 329.6C507.8 330.9 506.6 332.8 505.3 334.8C504 336.8 502.3 339 500.2 341.4C498.1 343.8 495.2 346.8 492.9 349.4C490.6 351.9 487.8 354.8 486.2 356.7C484.6 358.6 483.3 359.7 483.2 361C483.1 362.3 485.2 363.9 485.6 364.5C488.6 364.6 495.4 365.8 503.7 365.4C512 365 524.9 363.4 535.5 362.2C546.1 360.9 556.8 359.1 567.4 357.9C578 356.6 592.3 355.3 599.2 354.7C606.1 354.1 606.4 354.1 609 354.2C611.6 354.3 613.3 354.7 614.6 355.2C615.9 355.7 616.7 356.5 616.7 357.3C616.7 358.1 616 359 614.8 359.9C613.6 360.8 613.7 361.2 609.3 362.8C604.9 364.4 595.6 367.6 588.6 369.6C581.6 371.6 574.5 373.1 567.4 374.9C560.3 376.7 553.2 378.4 546.1 380.2C539 382 530.5 383.7 524.9 385.5C519.2 387.3 514.9 389.4 512.2 390.8C509.6 392.2 509.5 393.6 509 394.2C510.2 394.9 513.8 397 516.4 398.3C519 399.6 520.6 399.1 524.9 401.8C529.1 404.5 537.3 410.4 541.9 414.6C546.5 418.9 550.1 423.8 552.5 427.3C554.9 430.8 556.3 433.2 556.3 435.8C556.3 438.4 554.5 441.8 552.5 443.2C550.5 444.6 546.7 444.5 544 444.3C541.3 444.1 540.3 443.2 536.2 441.8C532.1 440.4 524.6 438 519.2 436.2C513.8 434.4 509.8 433 503.7 431.2C497.6 429.4 488.3 426.8 482.5 425.6C476.7 424.4 472.4 424 469 424.2C465.6 424.4 464 425.2 462 426.6C460 428 458.7 430.1 457.2 432.4C455.7 434.7 454.5 437 453 440.5C451.5 444 449.7 448.6 448.1 453.5C446.5 458.4 444.8 465.4 443.2 469.7C441.6 474 440.3 477.2 438.4 479.5C436.5 481.8 434.1 483.1 431.9 483.5C429.7 483.9 427.6 483.1 425.4 481.9C423.2 480.7 421.1 479 418.9 476.2C416.7 473.4 414.8 468.9 412.4 464.9C410 460.8 407 455.7 404.3 451.9C401.6 448.1 398.9 444.8 396.2 442.2C393.5 439.6 390.8 437.7 388.1 436.5C385.4 435.3 384.5 433.9 379.9 434.8C375.3 435.7 368 438.5 360.3 441.9C352.6 445.3 342.4 451.3 333.5 455.3C324.6 459.3 313.9 463.8 306.8 466C299.7 468.2 294.3 468.7 290.7 468.7C287.1 468.7 286 467.4 285.4 466C284.8 464.6 284.9 463 287 460.6C289.1 458.2 293.9 455 297.8 451.7C301.7 448.4 307.2 444.7 310.3 441C313.4 437.3 315.9 432.3 316.6 429.4C317.4 426.5 316.4 425 314.8 423.6C313.2 422.2 311.7 421.1 306.8 421C301.9 420.9 293.4 423.1 285.3 423.3C277.2 423.5 267.4 423.1 258.5 422.4C249.6 421.6 238.2 419.8 231.8 418.8C225.4 417.8 222.9 417.1 220 416.4C217.1 415.7 215.9 415.1 214.6 414.4C213.3 413.7 212.6 412.7 212.4 412C212.2 411.3 212.4 410.6 213.2 410C214 409.4 215.4 409 217 408.6C218.6 408.2 218.9 408.1 222.8 407.7C226.8 407.3 234.8 406.8 240.7 406.3C246.6 405.8 252.6 405.3 258.5 404.6C264.4 403.9 271.4 402.9 276.3 401.9C281.2 400.9 286.1 399.1 288 398.5Z" fill="url(#cg)"/>
<path d="M288 398.5C286.1 397.4 281.2 394.9 276.3 392C271.4 389.1 263.6 384.9 258.5 381.4C253.4 377.8 249.3 374.3 246 370.7C242.7 367.1 240.3 362.4 238.6 359.5C236.9 356.6 236.2 354.7 235.9 353.2C235.6 351.7 236.1 350.9 236.6 350.3C237.1 349.7 237 349 239.2 349.7C241.4 350.4 244.9 352.3 249.6 354.6C254.3 356.9 261.4 361 267.4 363.5C273.3 366 279.4 368.2 285.3 369.8C291.2 371.4 297.5 372.7 303.1 373.3C308.7 373.9 315.2 374.1 319 373.5C322.8 372.9 324.8 370.6 326 370C325.5 368.5 323.9 364.6 322.8 361C321.7 357.4 320 351.4 319.3 348.3C318.6 345.2 318.5 344.3 318.6 342.6C318.7 340.9 319.2 339 320 338C320.8 337 321.9 336.6 323.3 336.5C324.7 336.4 326.3 336.6 328.3 337.2C330.3 337.8 330.7 337.6 335.4 339.8C340.1 342 349.3 347.1 356.6 350.4C363.9 353.7 372.1 357.6 379.2 359.6C386.3 361.6 393.8 362.2 399 362.5C404.2 362.8 406.9 361.8 410.4 361.2C413.9 360.6 416.4 359.8 420 358.6C423.6 357.4 428.6 355.5 431.9 354C435.2 352.5 437.1 351.1 440 349.5C442.9 347.9 445.2 346.6 449.2 344.6C453.1 342.6 458.8 339.6 463.7 337.5C468.6 335.4 473.4 333.4 478.3 331.7C483.2 330 489 328.3 492.9 327.4C496.8 326.4 499.4 326.1 501.7 326C504 325.9 505.4 326.3 506.5 326.9C507.6 327.5 508.2 328.3 508 329.6C507.8 330.9 506.6 332.8 505.3 334.8C504 336.8 502.3 339 500.2 341.4C498.1 343.8 495.2 346.8 492.9 349.4C490.6 351.9 487.8 354.8 486.2 356.7C484.6 358.6 483.3 359.7 483.2 361C483.1 362.3 485.2 363.9 485.6 364.5C488.6 364.6 495.4 365.8 503.7 365.4C512 365 524.9 363.4 535.5 362.2C546.1 360.9 556.8 359.1 567.4 357.9C578 356.6 592.3 355.3 599.2 354.7C606.1 354.1 606.4 354.1 609 354.2C611.6 354.3 613.3 354.7 614.6 355.2C615.9 355.7 616.7 356.5 616.7 357.3C616.7 358.1 616 359 614.8 359.9C613.6 360.8 613.7 361.2 609.3 362.8C604.9 364.4 595.6 367.6 588.6 369.6C581.6 371.6 574.5 373.1 567.4 374.9C560.3 376.7 553.2 378.4 546.1 380.2C539 382 530.5 383.7 524.9 385.5C519.2 387.3 514.9 389.4 512.2 390.8C509.6 392.2 509.5 393.6 509 394.2C510.2 394.9 513.8 397 516.4 398.3C519 399.6 520.6 399.1 524.9 401.8C529.1 404.5 537.3 410.4 541.9 414.6C546.5 418.9 550.1 423.8 552.5 427.3C554.9 430.8 556.3 433.2 556.3 435.8C556.3 438.4 554.5 441.8 552.5 443.2C550.5 444.6 546.7 444.5 544 444.3C541.3 444.1 540.3 443.2 536.2 441.8C532.1 440.4 524.6 438 519.2 436.2C513.8 434.4 509.8 433 503.7 431.2C497.6 429.4 488.3 426.8 482.5 425.6C476.7 424.4 472.4 424 469 424.2C465.6 424.4 464 425.2 462 426.6C460 428 458.7 430.1 457.2 432.4C455.7 434.7 454.5 437 453 440.5C451.5 444 449.7 448.6 448.1 453.5C446.5 458.4 444.8 465.4 443.2 469.7C441.6 474 440.3 477.2 438.4 479.5C436.5 481.8 434.1 483.1 431.9 483.5C429.7 483.9 427.6 483.1 425.4 481.9C423.2 480.7 421.1 479 418.9 476.2C416.7 473.4 414.8 468.9 412.4 464.9C410 460.8 407 455.7 404.3 451.9C401.6 448.1 398.9 444.8 396.2 442.2C393.5 439.6 390.8 437.7 388.1 436.5C385.4 435.3 384.5 433.9 379.9 434.8C375.3 435.7 368 438.5 360.3 441.9C352.6 445.3 342.4 451.3 333.5 455.3C324.6 459.3 313.9 463.8 306.8 466C299.7 468.2 294.3 468.7 290.7 468.7C287.1 468.7 286 467.4 285.4 466C284.8 464.6 284.9 463 287 460.6C289.1 458.2 293.9 455 297.8 451.7C301.7 448.4 307.2 444.7 310.3 441C313.4 437.3 315.9 432.3 316.6 429.4C317.4 426.5 316.4 425 314.8 423.6C313.2 422.2 311.7 421.1 306.8 421C301.9 420.9 293.4 423.1 285.3 423.3C277.2 423.5 267.4 423.1 258.5 422.4C249.6 421.6 238.2 419.8 231.8 418.8C225.4 417.8 222.9 417.1 220 416.4C217.1 415.7 215.9 415.1 214.6 414.4C213.3 413.7 212.6 412.7 212.4 412C212.2 411.3 212.4 410.6 213.2 410C214 409.4 215.4 409 217 408.6C218.6 408.2 218.9 408.1 222.8 407.7C226.8 407.3 234.8 406.8 240.7 406.3C246.6 405.8 252.6 405.3 258.5 404.6C264.4 403.9 271.4 402.9 276.3 401.9C281.2 400.9 286.1 399.1 288 398.5Z" fill="none" stroke="url(#cb)" stroke-width="11" stroke-linejoin="round" clip-path="url(#cc)"/>
<path d="M288 398.5C286.1 397.4 281.2 394.9 276.3 392C271.4 389.1 263.6 384.9 258.5 381.4C253.4 377.8 249.3 374.3 246 370.7C242.7 367.1 240.3 362.4 238.6 359.5C236.9 356.6 236.2 354.7 235.9 353.2C235.6 351.7 236.1 350.9 236.6 350.3C237.1 349.7 237 349 239.2 349.7C241.4 350.4 244.9 352.3 249.6 354.6C254.3 356.9 261.4 361 267.4 363.5C273.3 366 279.4 368.2 285.3 369.8C291.2 371.4 297.5 372.7 303.1 373.3C308.7 373.9 315.2 374.1 319 373.5C322.8 372.9 324.8 370.6 326 370C325.5 368.5 323.9 364.6 322.8 361C321.7 357.4 320 351.4 319.3 348.3C318.6 345.2 318.5 344.3 318.6 342.6C318.7 340.9 319.2 339 320 338C320.8 337 321.9 336.6 323.3 336.5C324.7 336.4 326.3 336.6 328.3 337.2C330.3 337.8 330.7 337.6 335.4 339.8C340.1 342 349.3 347.1 356.6 350.4C363.9 353.7 372.1 357.6 379.2 359.6C386.3 361.6 393.8 362.2 399 362.5C404.2 362.8 406.9 361.8 410.4 361.2C413.9 360.6 416.4 359.8 420 358.6C423.6 357.4 428.6 355.5 431.9 354C435.2 352.5 437.1 351.1 440 349.5C442.9 347.9 445.2 346.6 449.2 344.6C453.1 342.6 458.8 339.6 463.7 337.5C468.6 335.4 473.4 333.4 478.3 331.7C483.2 330 489 328.3 492.9 327.4C496.8 326.4 499.4 326.1 501.7 326C504 325.9 505.4 326.3 506.5 326.9C507.6 327.5 508.2 328.3 508 329.6C507.8 330.9 506.6 332.8 505.3 334.8C504 336.8 502.3 339 500.2 341.4C498.1 343.8 495.2 346.8 492.9 349.4C490.6 351.9 487.8 354.8 486.2 356.7C484.6 358.6 483.3 359.7 483.2 361C483.1 362.3 485.2 363.9 485.6 364.5C488.6 364.6 495.4 365.8 503.7 365.4C512 365 524.9 363.4 535.5 362.2C546.1 360.9 556.8 359.1 567.4 357.9C578 356.6 592.3 355.3 599.2 354.7C606.1 354.1 606.4 354.1 609 354.2C611.6 354.3 613.3 354.7 614.6 355.2C615.9 355.7 616.7 356.5 616.7 357.3C616.7 358.1 616 359 614.8 359.9C613.6 360.8 613.7 361.2 609.3 362.8C604.9 364.4 595.6 367.6 588.6 369.6C581.6 371.6 574.5 373.1 567.4 374.9C560.3 376.7 553.2 378.4 546.1 380.2C539 382 530.5 383.7 524.9 385.5C519.2 387.3 514.9 389.4 512.2 390.8C509.6 392.2 509.5 393.6 509 394.2C510.2 394.9 513.8 397 516.4 398.3C519 399.6 520.6 399.1 524.9 401.8C529.1 404.5 537.3 410.4 541.9 414.6C546.5 418.9 550.1 423.8 552.5 427.3C554.9 430.8 556.3 433.2 556.3 435.8C556.3 438.4 554.5 441.8 552.5 443.2C550.5 444.6 546.7 444.5 544 444.3C541.3 444.1 540.3 443.2 536.2 441.8C532.1 440.4 524.6 438 519.2 436.2C513.8 434.4 509.8 433 503.7 431.2C497.6 429.4 488.3 426.8 482.5 425.6C476.7 424.4 472.4 424 469 424.2C465.6 424.4 464 425.2 462 426.6C460 428 458.7 430.1 457.2 432.4C455.7 434.7 454.5 437 453 440.5C451.5 444 449.7 448.6 448.1 453.5C446.5 458.4 444.8 465.4 443.2 469.7C441.6 474 440.3 477.2 438.4 479.5C436.5 481.8 434.1 483.1 431.9 483.5C429.7 483.9 427.6 483.1 425.4 481.9C423.2 480.7 421.1 479 418.9 476.2C416.7 473.4 414.8 468.9 412.4 464.9C410 460.8 407 455.7 404.3 451.9C401.6 448.1 398.9 444.8 396.2 442.2C393.5 439.6 390.8 437.7 388.1 436.5C385.4 435.3 384.5 433.9 379.9 434.8C375.3 435.7 368 438.5 360.3 441.9C352.6 445.3 342.4 451.3 333.5 455.3C324.6 459.3 313.9 463.8 306.8 466C299.7 468.2 294.3 468.7 290.7 468.7C287.1 468.7 286 467.4 285.4 466C284.8 464.6 284.9 463 287 460.6C289.1 458.2 293.9 455 297.8 451.7C301.7 448.4 307.2 444.7 310.3 441C313.4 437.3 315.9 432.3 316.6 429.4C317.4 426.5 316.4 425 314.8 423.6C313.2 422.2 311.7 421.1 306.8 421C301.9 420.9 293.4 423.1 285.3 423.3C277.2 423.5 267.4 423.1 258.5 422.4C249.6 421.6 238.2 419.8 231.8 418.8C225.4 417.8 222.9 417.1 220 416.4C217.1 415.7 215.9 415.1 214.6 414.4C213.3 413.7 212.6 412.7 212.4 412C212.2 411.3 212.4 410.6 213.2 410C214 409.4 215.4 409 217 408.6C218.6 408.2 218.9 408.1 222.8 407.7C226.8 407.3 234.8 406.8 240.7 406.3C246.6 405.8 252.6 405.3 258.5 404.6C264.4 403.9 271.4 402.9 276.3 401.9C281.2 400.9 286.1 399.1 288 398.5Z" fill="none" stroke="#2588a6" stroke-width="1.4" stroke-linejoin="round"/>
<path d="M516 438L517.2 437.8L518.5 437.5L519.7 437.2L520.9 436.8L522.1 436.5L523.3 436.1L524.5 435.7L525.6 435.4L526.7 435.1L527.7 434.8L528.7 434.5L529.7 434.2L530.7 434L531.7 433.7L532.6 433.4L533.5 433.1L534.4 432.9L535.2 432.6L535.9 432.4L536.6 432.2L537.1 432L537.6 431.9" fill="none" stroke="#da6f12" stroke-width="10.6"/>
<path d="M516 438L517.2 437.8L518.5 437.5L519.7 437.2L520.9 436.8L522.1 436.5L523.3 436.1L524.5 435.7L525.6 435.4L526.7 435.1L527.7 434.8L528.7 434.5L529.7 434.2L530.7 434L531.7 433.7L532.6 433.4L533.5 433.1L534.4 432.9L535.2 432.6L535.9 432.4L536.6 432.2L537.1 432L537.6 431.9" fill="none" stroke="#f9a522" stroke-width="8.4"/>
<path d="M516 438L517.2 437.8L518.5 437.5L519.7 437.2L520.9 436.8L522.1 436.5L523.3 436.1L524.5 435.7L525.6 435.4L526.7 435.1L527.7 434.8L528.7 434.5L529.7 434.2L530.7 434L531.7 433.7L532.6 433.4L533.5 433.1L534.4 432.9L535.2 432.6L535.9 432.4L536.6 432.2L537.1 432L537.6 431.9" fill="none" stroke="#fbb230" stroke-width="8.4" stroke-dasharray="4.6 4.6" stroke-dashoffset="2"/>
<path d="M516 438L517.2 437.8L518.5 437.5L519.7 437.2L520.9 436.8L522.1 436.5L523.3 436.1L524.5 435.7L525.6 435.4L526.7 435.1L527.7 434.8L528.7 434.5L529.7 434.2L530.7 434L531.7 433.7L532.6 433.4L533.5 433.1L534.4 432.9L535.2 432.6L535.9 432.4L536.6 432.2L537.1 432L537.6 431.9" fill="none" stroke="#ffe24f" stroke-opacity="0.22" stroke-width="8.4"/>
<ellipse cx="537.6" cy="431.9" rx="1.7" ry="4.4" transform="rotate(-16.6 537.6 431.9)" fill="#fdd05c" stroke="#da6f12" stroke-width="0.9"/>
<path d="M255.8 368C256.5 368.9 258.4 372 260 373.5C261.6 375 263.6 375.8 265.6 377C267.6 378.2 269.8 379.6 272 380.5C274.2 381.4 277.8 382.2 279 382.5" fill="none" stroke="#2288aa" stroke-width="1.6" stroke-linecap="round"/>
<path d="M303.1 400.3C304.6 399.9 309.2 399.1 312 398C314.8 396.9 317.5 395.6 320 394C322.5 392.4 326 389.2 327.2 388.3" fill="none" stroke="#2288aa" stroke-width="1.6" stroke-linecap="round"/>
<path d="M346.1 378.5C347.1 379.2 349.7 381.4 352 382.5C354.3 383.6 357.4 384.4 359.9 384.8C362.4 385.2 364.8 385.3 367 385.2C369.2 385.1 372.1 384.2 373.1 384" fill="none" stroke="#2288aa" stroke-width="1.6" stroke-linecap="round"/>
<path d="M465.5 370.7C466 369.4 467.2 365.4 468.5 363C469.8 360.6 471.5 358.6 473.5 356.5C475.5 354.4 479.2 351.5 480.3 350.5" fill="none" stroke="#2288aa" stroke-width="1.6" stroke-linecap="round"/>
<circle cx="293.3" cy="387.1" r="1.25" fill="#a88fca" stroke="#6c4f9c" stroke-width="1"/>
<circle cx="306.7" cy="394.7" r="1.25" fill="#a88fca" stroke="#6c4f9c" stroke-width="1"/>
<circle cx="315.6" cy="401.9" r="1.25" fill="#a88fca" stroke="#6c4f9c" stroke-width="1"/>
<circle cx="282.9" cy="405.4" r="1.25" fill="#a88fca" stroke="#6c4f9c" stroke-width="1"/>
<circle cx="286.1" cy="409.9" r="1.25" fill="#a88fca" stroke="#6c4f9c" stroke-width="1"/>
<circle cx="293.3" cy="407.2" r="1.25" fill="#a88fca" stroke="#6c4f9c" stroke-width="1"/>
<circle cx="279" cy="414.4" r="1.25" fill="#a88fca" stroke="#6c4f9c" stroke-width="1"/>
<circle cx="290.6" cy="413.5" r="1.25" fill="#a88fca" stroke="#6c4f9c" stroke-width="1"/>
<circle cx="296" cy="411.3" r="1.25" fill="#a88fca" stroke="#6c4f9c" stroke-width="1"/>
<circle cx="286.1" cy="417.4" r="1.25" fill="#a88fca" stroke="#6c4f9c" stroke-width="1"/>
<circle cx="292.4" cy="418.5" r="1.25" fill="#a88fca" stroke="#6c4f9c" stroke-width="1"/>
<circle cx="300.4" cy="415.3" r="1.25" fill="#a88fca" stroke="#6c4f9c" stroke-width="1"/>
<circle cx="251.7" cy="411.7" r="1.25" fill="#a88fca" stroke="#6c4f9c" stroke-width="1"/>
<circle cx="340.2" cy="359.1" r="1.25" fill="#a88fca" stroke="#6c4f9c" stroke-width="1"/>
<circle cx="381.1" cy="370.2" r="1.25" fill="#a88fca" stroke="#6c4f9c" stroke-width="1"/>
<circle cx="385.3" cy="406" r="1.25" fill="#a88fca" stroke="#6c4f9c" stroke-width="1"/>
<circle cx="370.4" cy="417" r="1.25" fill="#a88fca" stroke="#6c4f9c" stroke-width="1"/>
<circle cx="443" cy="352.4" r="1.25" fill="#a88fca" stroke="#6c4f9c" stroke-width="1"/>
<circle cx="450" cy="353.5" r="1.25" fill="#a88fca" stroke="#6c4f9c" stroke-width="1"/>
<circle cx="442.2" cy="358.9" r="1.25" fill="#a88fca" stroke="#6c4f9c" stroke-width="1"/>
<circle cx="446.9" cy="358.7" r="1.25" fill="#a88fca" stroke="#6c4f9c" stroke-width="1"/>
<circle cx="453.4" cy="359.2" r="1.25" fill="#a88fca" stroke="#6c4f9c" stroke-width="1"/>
<circle cx="436.5" cy="363.3" r="1.25" fill="#a88fca" stroke="#6c4f9c" stroke-width="1"/>
<circle cx="444.8" cy="365.4" r="1.25" fill="#a88fca" stroke="#6c4f9c" stroke-width="1"/>
<circle cx="450.5" cy="363.9" r="1.25" fill="#a88fca" stroke="#6c4f9c" stroke-width="1"/>
<circle cx="457.3" cy="364.6" r="1.25" fill="#a88fca" stroke="#6c4f9c" stroke-width="1"/>
<circle cx="483.7" cy="404.8" r="1.25" fill="#a88fca" stroke="#6c4f9c" stroke-width="1"/>
<circle cx="488.9" cy="400.4" r="1.25" fill="#a88fca" stroke="#6c4f9c" stroke-width="1"/>
<circle cx="495.4" cy="402.7" r="1.25" fill="#a88fca" stroke="#6c4f9c" stroke-width="1"/>
<circle cx="501.9" cy="403.5" r="1.25" fill="#a88fca" stroke="#6c4f9c" stroke-width="1"/>
<circle cx="486.8" cy="410" r="1.25" fill="#a88fca" stroke="#6c4f9c" stroke-width="1"/>
<circle cx="496.7" cy="408.2" r="1.25" fill="#a88fca" stroke="#6c4f9c" stroke-width="1"/>
<circle cx="493.6" cy="413.9" r="1.25" fill="#a88fca" stroke="#6c4f9c" stroke-width="1"/>
<circle cx="485.8" cy="417" r="1.25" fill="#a88fca" stroke="#6c4f9c" stroke-width="1"/>
<circle cx="490.2" cy="406.9" r="1.25" fill="#a88fca" stroke="#6c4f9c" stroke-width="1"/>
<circle cx="507.3" cy="374.5" r="1.25" fill="#a88fca" stroke="#6c4f9c" stroke-width="1"/>
<circle cx="396.1" cy="423" r="1.25" fill="#a88fca" stroke="#6c4f9c" stroke-width="1"/>
<circle cx="441.7" cy="439.8" r="1.25" fill="#a88fca" stroke="#6c4f9c" stroke-width="1"/>
<circle cx="408" cy="433.9" r="1.25" fill="#a88fca" stroke="#6c4f9c" stroke-width="1"/>
<circle cx="447.4" cy="420.4" r="1.25" fill="#a88fca" stroke="#6c4f9c" stroke-width="1"/>
<circle cx="456.5" cy="386.7" r="1.25" fill="#a88fca" stroke="#6c4f9c" stroke-width="1"/>
<circle cx="457.3" cy="396.5" r="1.25" fill="#a88fca" stroke="#6c4f9c" stroke-width="1"/>
<circle cx="550.4" cy="368.1" r="1.25" fill="#a88fca" stroke="#6c4f9c" stroke-width="1"/>
<circle cx="520.2" cy="379.2" r="1.25" fill="#a88fca" stroke="#6c4f9c" stroke-width="1"/>
<circle cx="523.2" cy="413.1" r="1.25" fill="#a88fca" stroke="#6c4f9c" stroke-width="1"/>
<circle cx="528.7" cy="424.6" r="1.25" fill="#a88fca" stroke="#6c4f9c" stroke-width="1"/>
<circle cx="546.1" cy="435.2" r="1.25" fill="#a88fca" stroke="#6c4f9c" stroke-width="1"/>
<circle cx="451.7" cy="411" r="1.5" fill="#2b86a8" stroke="#1c5a76" stroke-width="1"/>
<circle cx="457.9" cy="410.6" r="1.5" fill="#2b86a8" stroke="#1c5a76" stroke-width="1"/>
<circle cx="456" cy="419" r="1.5" fill="#2b86a8" stroke="#1c5a76" stroke-width="1"/>
<circle cx="400.1" cy="431.3" r="1.5" fill="#2b86a8" stroke="#1c5a76" stroke-width="1"/>
<g transform="translate(358.6 398.2) rotate(22) scale(1 1)"><path d="M-9.4 -0.8C-9.6 -4.6 -5.6 -6.2 -2.8 -3.9C-1 -2.5 0.8 -2.5 2.5 -3.9C5.3 -6.2 9.6 -4.4 9.5 -0.3C9.4 3.6 5.4 5.2 0.4 5.2C-4.8 5.2 -9.2 3.4 -9.4 -0.8Z" fill="#1b8b4d" stroke="#117041" stroke-width="1"/><path d="M-6.8 -0.8C-6.2 1.9 -3 3 0.3 3C3.6 3 6.6 1.9 7 -0.5" fill="none" stroke="#4fb870" stroke-width="1" stroke-dasharray="1.2 1.5" stroke-linecap="round"/><path d="M-5.8 -3L-4.9 -1M-2.2 -0.8L-1.7 1M2 -1L1.8 1M5.8 -2.8L5 -0.7" fill="none" stroke="#4fb870" stroke-width="0.9" stroke-linecap="round"/></g>
<g transform="translate(478.8 390.3) rotate(-38) scale(0.9 1.1)"><path d="M-9.4 -0.8C-9.6 -4.6 -5.6 -6.2 -2.8 -3.9C-1 -2.5 0.8 -2.5 2.5 -3.9C5.3 -6.2 9.6 -4.4 9.5 -0.3C9.4 3.6 5.4 5.2 0.4 5.2C-4.8 5.2 -9.2 3.4 -9.4 -0.8Z" fill="#1b8b4d" stroke="#117041" stroke-width="1"/><path d="M-6.8 -0.8C-6.2 1.9 -3 3 0.3 3C3.6 3 6.6 1.9 7 -0.5" fill="none" stroke="#4fb870" stroke-width="1" stroke-dasharray="1.2 1.5" stroke-linecap="round"/><path d="M-5.8 -3L-4.9 -1M-2.2 -0.8L-1.7 1M2 -1L1.8 1M5.8 -2.8L5 -0.7" fill="none" stroke="#4fb870" stroke-width="0.9" stroke-linecap="round"/></g>
<g transform="translate(428.7 457.8) rotate(-40) scale(0.9 1)"><path d="M-9.4 -0.8C-9.6 -4.6 -5.6 -6.2 -2.8 -3.9C-1 -2.5 0.8 -2.5 2.5 -3.9C5.3 -6.2 9.6 -4.4 9.5 -0.3C9.4 3.6 5.4 5.2 0.4 5.2C-4.8 5.2 -9.2 3.4 -9.4 -0.8Z" fill="#1b8b4d" stroke="#117041" stroke-width="1"/><path d="M-6.8 -0.8C-6.2 1.9 -3 3 0.3 3C3.6 3 6.6 1.9 7 -0.5" fill="none" stroke="#4fb870" stroke-width="1" stroke-dasharray="1.2 1.5" stroke-linecap="round"/><path d="M-5.8 -3L-4.9 -1M-2.2 -0.8L-1.7 1M2 -1L1.8 1M5.8 -2.8L5 -0.7" fill="none" stroke="#4fb870" stroke-width="0.9" stroke-linecap="round"/></g>
<ellipse cx="352.4" cy="420.9" rx="2.7" ry="1.7" transform="rotate(25 352.4 420.9)" fill="#f5a88f" stroke="#e2694a" stroke-width="0.8"/>
<path d="M320.8 446.1A26.3 26.3 0 0 1 351.7 415.7" fill="none" stroke="#e2694a" stroke-width="3.7" stroke-linecap="round"/>
<path d="M320.8 446.1A26.3 26.3 0 0 1 351.7 415.7" fill="none" stroke="#f5a88f" stroke-width="2.3" stroke-linecap="round"/>
<path d="M324.1 441.5A22.6 22.6 0 0 1 349.5 419.1" fill="none" stroke="#e2694a" stroke-width="3.7" stroke-linecap="round"/>
<path d="M324.1 441.5A22.6 22.6 0 0 1 349.5 419.1" fill="none" stroke="#f5a88f" stroke-width="2.3" stroke-linecap="round"/>
<path d="M328 438.9A18.9 18.9 0 0 1 346.7 422.6" fill="none" stroke="#e2694a" stroke-width="3.7" stroke-linecap="round"/>
<path d="M328 438.9A18.9 18.9 0 0 1 346.7 422.6" fill="none" stroke="#f5a88f" stroke-width="2.3" stroke-linecap="round"/>
<path d="M332.1 437.3A15.2 15.2 0 0 1 344.6 426.4" fill="none" stroke="#e2694a" stroke-width="3.7" stroke-linecap="round"/>
<path d="M332.1 437.3A15.2 15.2 0 0 1 344.6 426.4" fill="none" stroke="#f5a88f" stroke-width="2.3" stroke-linecap="round"/>
<path d="M441.1 382.6A27 27 0 0 1 439.5 412M448.6 390.1A31.5 31.5 0 0 1 434.4 422.8M450.1 378.2A37 37 0 0 1 453.4 405.7M430.3 418.8A26 26 0 0 1 403.5 417.9M424.2 426.7A31.3 31.3 0 0 1 391.2 412.7M435.8 427.5A36.3 36.3 0 0 1 407.7 431M444.6 393.3L449 392.8M449.2 397.7L454.6 398M442.7 406.2L446.9 407.9M413.2 421.7L412.3 426.9M418.8 427.4L419 432.4" fill="none" stroke="#2b668f" stroke-width="3.6" stroke-linecap="round"/>
<path d="M441.1 382.6A27 27 0 0 1 439.5 412M448.6 390.1A31.5 31.5 0 0 1 434.4 422.8M450.1 378.2A37 37 0 0 1 453.4 405.7M430.3 418.8A26 26 0 0 1 403.5 417.9M424.2 426.7A31.3 31.3 0 0 1 391.2 412.7M435.8 427.5A36.3 36.3 0 0 1 407.7 431M444.6 393.3L449 392.8M449.2 397.7L454.6 398M442.7 406.2L446.9 407.9M413.2 421.7L412.3 426.9M418.8 427.4L419 432.4" fill="none" stroke="#3f86b6" stroke-width="2.2" stroke-linecap="round"/>
<circle cx="417.7" cy="396.1" r="22.6" fill="url(#ng)" stroke="#d5502f" stroke-width="1.2"/>
<circle cx="425.4" cy="391.1" r="6.3" fill="#e4552f"/>
<circle cx="417.6" cy="385.4" r="7.8" fill="#fbc3b0" fill-opacity="0.72"/>
<line x1="192.4" y1="472.5" x2="263.9" y2="376" stroke="#22344f" stroke-width="1.3"/>
<circle cx="192.4" cy="472.5" r="2.3" fill="#7fd0e2" stroke="#22344f" stroke-width="0.9"/>
<line x1="276.2" y1="500.1" x2="321.5" y2="442.5" stroke="#22344f" stroke-width="1.3"/>
<circle cx="276.2" cy="500.1" r="2.3" fill="#ffffff" stroke="#22344f" stroke-width="0.9"/>
<line x1="359.3" y1="465.8" x2="404" y2="405.4" stroke="#22344f" stroke-width="1.3"/>
<circle cx="359.3" cy="465.8" r="2.3" fill="#e0523a" stroke="#22344f" stroke-width="0.9"/>
<line x1="382.7" y1="491.3" x2="426.2" y2="432.4" stroke="#22344f" stroke-width="1.3"/>
<circle cx="382.7" cy="491.3" r="2.3" fill="#2f86b0" stroke="#22344f" stroke-width="0.9"/>
<line x1="476.1" y1="524.7" x2="432.7" y2="464" stroke="#22344f" stroke-width="1.3"/>
<circle cx="476.1" cy="524.7" r="2.3" fill="#2a9158" stroke="#22344f" stroke-width="0.9"/>
<line x1="521.2" y1="487.9" x2="486.8" y2="441.5" stroke="#22344f" stroke-width="1.3"/>
<circle cx="521.2" cy="487.9" r="2.3" fill="#f4c542" stroke="#22344f" stroke-width="0.9"/>
<line x1="578" y1="403" x2="519.6" y2="378.9" stroke="#22344f" stroke-width="1.3"/>
<line x1="578" y1="403" x2="496.3" y2="408.2" stroke="#22344f" stroke-width="1.3"/>
<circle cx="578" cy="403" r="2.3" fill="#b7a4e0" stroke="#22344f" stroke-width="0.9"/>
<text x="191.8" y="485.3" text-anchor="middle" font-family="'DejaVu Serif Condensed','DejaVu Serif','Liberation Serif',serif" font-weight="bold" font-size="11.3" fill="#b43625" stroke="#b43625" stroke-width="0.4" textLength="71.8" lengthAdjust="spacingAndGlyphs">Microtubule</text>
<text x="272.6" y="518.5" text-anchor="middle" font-family="'DejaVu Serif Condensed','DejaVu Serif','Liberation Serif',serif" font-weight="bold" font-size="11.3" fill="#b43625" stroke="#b43625" stroke-width="0.4" textLength="28.3" lengthAdjust="spacingAndGlyphs">Golgi</text>
<text x="273.5" y="532.7" text-anchor="middle" font-family="'DejaVu Serif Condensed','DejaVu Serif','Liberation Serif',serif" font-weight="bold" font-size="11.3" fill="#b43625" stroke="#b43625" stroke-width="0.4" textLength="59.8" lengthAdjust="spacingAndGlyphs">Apparatus</text>
<text x="357.8" y="479.7" text-anchor="middle" font-family="'DejaVu Serif Condensed','DejaVu Serif','Liberation Serif',serif" font-weight="bold" font-size="11.3" fill="#b43625" stroke="#b43625" stroke-width="0.4" textLength="46.7" lengthAdjust="spacingAndGlyphs">Nucleus</text>
<text x="384" y="504.4" text-anchor="middle" font-family="'DejaVu Serif Condensed','DejaVu Serif','Liberation Serif',serif" font-weight="bold" font-size="11.3" fill="#b43625" stroke="#b43625" stroke-width="0.4" textLength="37.2" lengthAdjust="spacingAndGlyphs">Rough</text>
<text x="384" y="518.8" text-anchor="middle" font-family="'DejaVu Serif Condensed','DejaVu Serif','Liberation Serif',serif" font-weight="bold" font-size="11.3" fill="#b43625" stroke="#b43625" stroke-width="0.4" textLength="74.8" lengthAdjust="spacingAndGlyphs">Endoplasmic</text>
<text x="384" y="533.2" text-anchor="middle" font-family="'DejaVu Serif Condensed','DejaVu Serif','Liberation Serif',serif" font-weight="bold" font-size="11.3" fill="#b43625" stroke="#b43625" stroke-width="0.4" textLength="60.7" lengthAdjust="spacingAndGlyphs">Reticulum</text>
<text x="476.4" y="539.4" text-anchor="middle" font-family="'DejaVu Serif Condensed','DejaVu Serif','Liberation Serif',serif" font-weight="bold" font-size="11.3" fill="#b43625" stroke="#b43625" stroke-width="0.4" textLength="88.3" lengthAdjust="spacingAndGlyphs">Mitochondrion</text>
<text x="527.3" y="504.8" text-anchor="middle" font-family="'DejaVu Serif Condensed','DejaVu Serif','Liberation Serif',serif" font-weight="bold" font-size="11.3" fill="#b43625" stroke="#b43625" stroke-width="0.4" textLength="50.3" lengthAdjust="spacingAndGlyphs">Collagen</text>
<text x="527.3" y="518.8" text-anchor="middle" font-family="'DejaVu Serif Condensed','DejaVu Serif','Liberation Serif',serif" font-weight="bold" font-size="11.3" fill="#b43625" stroke="#b43625" stroke-width="0.4" textLength="36.8" lengthAdjust="spacingAndGlyphs">Fibrils</text>
<text x="566.1" y="479" text-anchor="middle" font-family="'DejaVu Serif Condensed','DejaVu Serif','Liberation Serif',serif" font-weight="bold" font-size="11.3" fill="#b43625" stroke="#b43625" stroke-width="0.4" textLength="62.2" lengthAdjust="spacingAndGlyphs">Cytoplasm</text>
<text x="615.5" y="407" text-anchor="middle" font-family="'DejaVu Serif Condensed','DejaVu Serif','Liberation Serif',serif" font-weight="bold" font-size="11.3" fill="#b43625" stroke="#b43625" stroke-width="0.4" textLength="62.9" lengthAdjust="spacingAndGlyphs">Ribosomes</text>
<text x="177" y="195.5" text-anchor="middle" font-family="'DejaVu Serif Condensed','DejaVu Serif','Liberation Serif',serif" font-weight="bold" font-size="11.3" fill="#18284a" stroke="#18284a" stroke-width="0.4" textLength="52.1" lengthAdjust="spacingAndGlyphs">Enzymes</text>
<text x="339.5" y="170.6" text-anchor="middle" font-family="'DejaVu Serif Condensed','DejaVu Serif','Liberation Serif',serif" font-weight="bold" font-size="11.3" fill="#18284a" stroke="#18284a" stroke-width="0.4" textLength="75.8" lengthAdjust="spacingAndGlyphs">Extracellular</text>
<text x="339.5" y="184.8" text-anchor="middle" font-family="'DejaVu Serif Condensed','DejaVu Serif','Liberation Serif',serif" font-weight="bold" font-size="11.3" fill="#18284a" stroke="#18284a" stroke-width="0.4" textLength="40" lengthAdjust="spacingAndGlyphs">Matrix</text>
<text x="459" y="175.5" text-anchor="middle" font-family="'DejaVu Serif Condensed','DejaVu Serif','Liberation Serif',serif" font-weight="bold" font-size="11.3" fill="#18284a" stroke="#18284a" stroke-width="0.4" textLength="50.3" lengthAdjust="spacingAndGlyphs">Collagen</text>
<text x="459.2" y="189.6" text-anchor="middle" font-family="'DejaVu Serif Condensed','DejaVu Serif','Liberation Serif',serif" font-weight="bold" font-size="11.3" fill="#18284a" stroke="#18284a" stroke-width="0.4" textLength="37.5" lengthAdjust="spacingAndGlyphs">Fibrils</text>
<text x="658.8" y="207.7" text-anchor="middle" font-family="'DejaVu Serif Condensed','DejaVu Serif','Liberation Serif',serif" font-weight="bold" font-size="11.3" fill="#18284a" stroke="#18284a" stroke-width="0.4" textLength="41.9" lengthAdjust="spacingAndGlyphs">Elastin</text>
<text x="718.7" y="362" text-anchor="middle" font-family="'DejaVu Serif Condensed','DejaVu Serif','Liberation Serif',serif" font-weight="bold" font-size="11.3" fill="#18284a" stroke="#18284a" stroke-width="0.4" textLength="43" lengthAdjust="spacingAndGlyphs">Growth</text>
<text x="718.9" y="376.2" text-anchor="middle" font-family="'DejaVu Serif Condensed','DejaVu Serif','Liberation Serif',serif" font-weight="bold" font-size="11.3" fill="#18284a" stroke="#18284a" stroke-width="0.4" textLength="42.5" lengthAdjust="spacingAndGlyphs">Factors</text>
<text x="112" y="362.6" text-anchor="middle" font-family="'DejaVu Serif Condensed','DejaVu Serif','Liberation Serif',serif" font-weight="bold" font-size="11.3" fill="#18284a" stroke="#18284a" stroke-width="0.4" textLength="64.1" lengthAdjust="spacingAndGlyphs">Hyaluronic</text>
<text x="112.1" y="376.6" text-anchor="middle" font-family="'DejaVu Serif Condensed','DejaVu Serif','Liberation Serif',serif" font-weight="bold" font-size="11.3" fill="#18284a" stroke="#18284a" stroke-width="0.4" textLength="25.7" lengthAdjust="spacingAndGlyphs">Acid</text>
<circle cx="110" cy="318" r="10.1" fill="url(#hv)" stroke="#44607f" stroke-width="1.1"/>
<circle cx="127.9" cy="314.4" r="10.1" fill="url(#hv)" stroke="#44607f" stroke-width="1.1"/>
<circle cx="146" cy="310.5" r="10.1" fill="url(#hv)" stroke="#44607f" stroke-width="1.1"/>
<circle cx="77.3" cy="316.5" r="10.1" fill="url(#hp)" stroke="#44607f" stroke-width="1.1"/>
<circle cx="94.4" cy="324.7" r="10.1" fill="url(#hp)" stroke="#44607f" stroke-width="1.1"/>
<circle cx="111" cy="333" r="10.1" fill="url(#hp)" stroke="#44607f" stroke-width="1.1"/>
<path d="M747.6 314.4C746.8 317 745.2 316.4 743.4 318.8C741.6 321.2 742.6 322.5 740.3 324C738.1 325.5 737.2 324 734.3 324.6C731.4 325.3 731.3 327 728.6 326.7C725.9 326.3 726.2 324.7 723.6 323.3C720.9 321.9 719.7 323.1 717.9 321.2C716 319.2 717.4 318.1 716.2 315.3C715 312.6 713.4 312.8 713.2 310.1C713.1 307.4 714.8 307.4 715.7 304.5C716.6 301.6 715.1 300.7 716.8 298.6C718.4 296.4 719.7 297.5 722.2 295.9C724.7 294.3 724.3 292.6 726.9 292C729.5 291.4 729.8 293.1 732.8 293.5C735.8 293.9 736.4 292.3 738.8 293.5C741.3 294.8 740.4 296.2 742.4 298.4C744.5 300.6 746 299.9 747 302.4C748.1 304.9 746.5 305.4 746.6 308.4C746.8 311.4 748.4 311.8 747.6 314.4Z" fill="#3bab4c" stroke="#1e8637" stroke-width="1.3"/>
<circle cx="734.7" cy="307.1" r="7.4" fill="#72c878" opacity="0.75"/>
<circle cx="725" cy="300.8" r="2.5" fill="#72c878" opacity="0.75"/>
<path d="M747 338.3C746.4 340.1 745.4 339.7 744.1 341.3C742.9 342.9 743.6 343.8 742 344.8C740.5 345.8 740 344.8 738 345.2C736 345.7 735.9 346.8 734.1 346.6C732.3 346.4 732.5 345.3 730.7 344.3C728.9 343.4 728.1 344.2 726.9 342.9C725.6 341.5 726.5 340.8 725.7 339C724.9 337.1 723.8 337.2 723.7 335.4C723.6 333.6 724.8 333.6 725.4 331.6C726 329.7 725 329.1 726.1 327.6C727.2 326.1 728.1 326.9 729.8 325.8C731.5 324.7 731.2 323.6 733 323.2C734.7 322.8 734.9 323.9 736.9 324.2C739 324.4 739.4 323.4 741 324.2C742.7 325.1 742.1 326 743.5 327.5C744.8 329 745.9 328.5 746.6 330.2C747.3 331.9 746.2 332.2 746.3 334.3C746.4 336.3 747.5 336.6 747 338.3Z" fill="#3bab4c" stroke="#1e8637" stroke-width="1.3"/>
<circle cx="738.2" cy="333.4" r="5" fill="#72c878" opacity="0.75"/>
<circle cx="731.7" cy="329.1" r="1.7" fill="#72c878" opacity="0.75"/>
<path d="M723 332.4C722.2 334.9 720.7 334.3 718.9 336.7C717.2 339 718.1 340.3 715.9 341.8C713.7 343.2 712.9 341.7 710 342.4C707.2 343 707.1 344.7 704.4 344.4C701.8 344 702.1 342.4 699.5 341.1C696.9 339.7 695.8 340.9 694 339C692.2 337 693.5 336 692.3 333.3C691.2 330.6 689.6 330.8 689.4 328.1C689.3 325.5 690.9 325.5 691.8 322.7C692.7 319.9 691.3 319 692.9 316.9C694.5 314.8 695.7 315.9 698.2 314.3C700.7 312.7 700.2 311.1 702.8 310.5C705.4 309.9 705.6 311.6 708.5 311.9C711.5 312.3 712.1 310.8 714.5 312C716.8 313.2 716 314.6 718 316.8C720 318.9 721.4 318.2 722.5 320.6C723.5 323.1 721.9 323.6 722.1 326.5C722.2 329.5 723.8 329.9 723 332.4Z" fill="#8cc63f" stroke="#5f9f29" stroke-width="1.3"/>
<circle cx="710.4" cy="325.2" r="7.2" fill="#b3da6e" opacity="0.75"/>
<circle cx="700.9" cy="319" r="2.4" fill="#b3da6e" opacity="0.75"/>
<path d="M595.1 205.9L593.9 210.7M599.3 206.9L598.2 211.7M603.6 207.9L602.3 212.7M607.9 209.2L606.3 213.9M612.1 210.6L610.4 215.3M616.2 212.2L614.4 216.9M620.3 213.9L618.3 218.5M624.4 215.8L622.1 220.3M628.3 217.9L625.9 222.3M632.1 220.1L629.7 224.4M635.9 222.2L633.4 226.5M639.7 224.5L637.1 228.7M643.4 226.8L640.8 231M647.1 229.1L644.5 233.3M650.8 231.5L648.1 235.7M654.4 233.9L651.7 238.1M658 236.2L655.4 240.5M661.7 238.5L659.1 242.7M665.4 240.7L662.9 245M669.1 242.7L666.8 247.2M672.9 244.7L670.8 249.2M676.8 246.5L674.7 251M680.7 248.2L678.8 252.8M684.7 249.8L682.9 254.5M688.6 251.2L687.1 256M692.7 252.4L691.4 257.3M696.9 253.5L695.7 258.4M701.1 254.6L699.9 259.4" fill="none" stroke="#2e9cd8" stroke-width="2.75" stroke-linecap="round"/>
<path d="M589.3 231.3L588.5 236.3M593.6 232.1L592.7 237M597.9 232.9L597.1 237.8M602.1 233.5L601.5 238.5M606.2 233.8L606 238.8M610.5 234L610.4 239M614.7 234L614.8 239M619 233.8L619.3 238.8M623.2 233.5L623.7 238.5M627.5 233L628.1 238M631.7 232.4L632.5 237.3M635.8 231.6L636.9 236.4M639.9 230.5L641.3 235.3M644.1 229.3L645.4 234.1M648.2 228.1L649.7 232.8M652.4 226.8L653.8 231.6M656.9 225.7L657.7 230.6M661.3 225L661.9 229.9M665.7 224.5L666.1 229.5M670.1 224.2L670.4 229.2M674.6 224.1L674.6 229.1M679.1 224.3L678.8 229.3M683.5 224.6L683.1 229.6M687.9 225.1L687.3 230.1M692.3 225.6L691.6 230.6M696.6 226.3L695.8 231.3M701 227.1L700.1 232M705.3 227.9L704.3 232.8" fill="none" stroke="#2e9cd8" stroke-width="2.75" stroke-linecap="round"/>
<path d="M441 211.5C442 211.2 446 209.8 447 209.5" fill="none" stroke="#da6f12" stroke-width="9.4" stroke-linecap="butt"/>
<path d="M441 211.5C442 211.2 446 209.8 447 209.5" fill="none" stroke="#f9a522" stroke-width="7.2" stroke-linecap="butt"/>
<path d="M441 211.5C442 211.2 446 209.8 447 209.5" fill="none" stroke="#fbb230" stroke-width="7.2" stroke-dasharray="4.6 4.6" stroke-linecap="butt"/>
<ellipse cx="441" cy="211.5" rx="1.7" ry="3.8" transform="rotate(-18.4 441 211.5)" fill="#fdd05c" stroke="#da6f12" stroke-width="0.9"/>
<path d="M435.5 215C437.1 214.6 443.4 212.9 445 212.5" fill="none" stroke="#da6f12" stroke-width="9.4" stroke-linecap="butt"/>
<path d="M435.5 215C437.1 214.6 443.4 212.9 445 212.5" fill="none" stroke="#f9a522" stroke-width="7.2" stroke-linecap="butt"/>
<path d="M435.5 215C437.1 214.6 443.4 212.9 445 212.5" fill="none" stroke="#fbb230" stroke-width="7.2" stroke-dasharray="4.6 4.6" stroke-linecap="butt"/>
<ellipse cx="435.5" cy="215" rx="1.7" ry="3.8" transform="rotate(-14.7 435.5 215)" fill="#fdd05c" stroke="#da6f12" stroke-width="0.9"/>
<path d="M435.5 223C437.1 222.6 443.4 220.9 445 220.5" fill="none" stroke="#da6f12" stroke-width="9.4" stroke-linecap="butt"/>
<path d="M435.5 223C437.1 222.6 443.4 220.9 445 220.5" fill="none" stroke="#f9a522" stroke-width="7.2" stroke-linecap="butt"/>
<path d="M435.5 223C437.1 222.6 443.4 220.9 445 220.5" fill="none" stroke="#fbb230" stroke-width="7.2" stroke-dasharray="4.6 4.6" stroke-linecap="butt"/>
<ellipse cx="435.5" cy="223" rx="1.7" ry="3.8" transform="rotate(-14.7 435.5 223)" fill="#fdd05c" stroke="#da6f12" stroke-width="0.9"/>
<path d="M441 219.5C442 219.2 446 218.2 447 218" fill="none" stroke="#da6f12" stroke-width="9.4" stroke-linecap="butt"/>
<path d="M441 219.5C442 219.2 446 218.2 447 218" fill="none" stroke="#f9a522" stroke-width="7.2" stroke-linecap="butt"/>
<path d="M441 219.5C442 219.2 446 218.2 447 218" fill="none" stroke="#fbb230" stroke-width="7.2" stroke-dasharray="4.6 4.6" stroke-linecap="butt"/>
<ellipse cx="441" cy="219.5" rx="1.7" ry="3.8" transform="rotate(-14 441 219.5)" fill="#fdd05c" stroke="#da6f12" stroke-width="0.9"/>
<path d="M439.8 230C444.8 229.1 460 226.4 470 224.5C480 222.6 491.4 220.4 500 218.5C508.6 216.6 517.9 213.9 521.5 213" fill="none" stroke="#da6f12" stroke-width="9.4" stroke-linecap="butt"/>
<path d="M439.8 230C444.8 229.1 460 226.4 470 224.5C480 222.6 491.4 220.4 500 218.5C508.6 216.6 517.9 213.9 521.5 213" fill="none" stroke="#f9a522" stroke-width="7.2" stroke-linecap="butt"/>
<path d="M439.8 230C444.8 229.1 460 226.4 470 224.5C480 222.6 491.4 220.4 500 218.5C508.6 216.6 517.9 213.9 521.5 213" fill="none" stroke="#fbb230" stroke-width="7.2" stroke-dasharray="4.6 4.6" stroke-linecap="butt"/>
<ellipse cx="439.8" cy="230" rx="1.7" ry="3.8" transform="rotate(-10.3 439.8 230)" fill="#fdd05c" stroke="#da6f12" stroke-width="0.9"/>
<path d="M446 218.7C451.3 217.8 467.7 215.4 478 213.5C488.3 211.6 499.7 209.3 508 207.5C516.3 205.7 524.7 203.4 528 202.6" fill="none" stroke="#da6f12" stroke-width="9.4" stroke-linecap="butt"/>
<path d="M446 218.7C451.3 217.8 467.7 215.4 478 213.5C488.3 211.6 499.7 209.3 508 207.5C516.3 205.7 524.7 203.4 528 202.6" fill="none" stroke="#f9a522" stroke-width="7.2" stroke-linecap="butt"/>
<path d="M446 218.7C451.3 217.8 467.7 215.4 478 213.5C488.3 211.6 499.7 209.3 508 207.5C516.3 205.7 524.7 203.4 528 202.6" fill="none" stroke="#fbb230" stroke-width="7.2" stroke-dasharray="4.6 4.6" stroke-linecap="butt"/>
<ellipse cx="446" cy="218.7" rx="1.7" ry="3.8" transform="rotate(-9.2 446 218.7)" fill="#fdd05c" stroke="#da6f12" stroke-width="0.9"/>
<path d="M447 210.6C452.5 209.8 469.5 207.5 480 205.5C490.5 203.5 501.9 200.8 510 198.5C518.1 196.2 525.7 193 528.8 191.9" fill="none" stroke="#da6f12" stroke-width="9.4" stroke-linecap="butt"/>
<path d="M447 210.6C452.5 209.8 469.5 207.5 480 205.5C490.5 203.5 501.9 200.8 510 198.5C518.1 196.2 525.7 193 528.8 191.9" fill="none" stroke="#f9a522" stroke-width="7.2" stroke-linecap="butt"/>
<path d="M447 210.6C452.5 209.8 469.5 207.5 480 205.5C490.5 203.5 501.9 200.8 510 198.5C518.1 196.2 525.7 193 528.8 191.9" fill="none" stroke="#fbb230" stroke-width="7.2" stroke-dasharray="4.6 4.6" stroke-linecap="butt"/>
<ellipse cx="447" cy="210.6" rx="1.7" ry="3.8" transform="rotate(-8.8 447 210.6)" fill="#fdd05c" stroke="#da6f12" stroke-width="0.9"/>
<path d="M282.4 209Q300 223.5 324.5 234Q349 241.5 374 234.5Q394 227 407.1 218" fill="none" stroke="#f8e08f" stroke-width="4.1" stroke-linecap="round"/>
<ellipse cx="293.2" cy="255.9" rx="2.55" ry="3.5" transform="rotate(-15.1 293.2 255.9)" fill="#daf5fa" stroke="#45b3c6" stroke-width="0.95"/>
<ellipse cx="297" cy="253.9" rx="2.55" ry="3.5" transform="rotate(-13.3 297 253.9)" fill="#daf5fa" stroke="#45b3c6" stroke-width="0.95"/>
<ellipse cx="300.7" cy="252" rx="2.55" ry="3.5" transform="rotate(-13.5 300.7 252)" fill="#daf5fa" stroke="#45b3c6" stroke-width="0.95"/>
<ellipse cx="304.5" cy="250" rx="2.55" ry="3.5" transform="rotate(-14.3 304.5 250)" fill="#daf5fa" stroke="#45b3c6" stroke-width="0.95"/>
<ellipse cx="308.2" cy="247.9" rx="2.55" ry="3.5" transform="rotate(-15.9 308.2 247.9)" fill="#daf5fa" stroke="#45b3c6" stroke-width="0.95"/>
<ellipse cx="311.8" cy="245.7" rx="2.55" ry="3.5" transform="rotate(-18.2 311.8 245.7)" fill="#daf5fa" stroke="#45b3c6" stroke-width="0.95"/>
<ellipse cx="315.4" cy="243.4" rx="2.55" ry="3.5" transform="rotate(-21.8 315.4 243.4)" fill="#daf5fa" stroke="#45b3c6" stroke-width="0.95"/>
<ellipse cx="318.8" cy="240.8" rx="2.55" ry="3.5" transform="rotate(-24.7 318.8 240.8)" fill="#daf5fa" stroke="#45b3c6" stroke-width="0.95"/>
<ellipse cx="322" cy="238.1" rx="2.55" ry="3.5" transform="rotate(-26.8 322 238.1)" fill="#daf5fa" stroke="#45b3c6" stroke-width="0.95"/>
<ellipse cx="325.2" cy="235.3" rx="2.55" ry="3.5" transform="rotate(-28 325.2 235.3)" fill="#daf5fa" stroke="#45b3c6" stroke-width="0.95"/>
<ellipse cx="328.3" cy="232.4" rx="2.55" ry="3.5" transform="rotate(-29.5 328.3 232.4)" fill="#daf5fa" stroke="#45b3c6" stroke-width="0.95"/>
<ellipse cx="331.4" cy="229.4" rx="2.55" ry="3.5" transform="rotate(-30.8 331.4 229.4)" fill="#daf5fa" stroke="#45b3c6" stroke-width="0.95"/>
<ellipse cx="334.4" cy="226.4" rx="2.55" ry="3.5" transform="rotate(-31.9 334.4 226.4)" fill="#daf5fa" stroke="#45b3c6" stroke-width="0.95"/>
<ellipse cx="337.3" cy="223.3" rx="2.55" ry="3.5" transform="rotate(-33 337.3 223.3)" fill="#daf5fa" stroke="#45b3c6" stroke-width="0.95"/>
<ellipse cx="340.1" cy="220.1" rx="2.55" ry="3.5" transform="rotate(-36.5 340.1 220.1)" fill="#daf5fa" stroke="#45b3c6" stroke-width="0.95"/>
<ellipse cx="342.7" cy="216.8" rx="2.55" ry="3.5" transform="rotate(-40 342.7 216.8)" fill="#daf5fa" stroke="#45b3c6" stroke-width="0.95"/>
<ellipse cx="345.2" cy="213.3" rx="2.55" ry="3.5" transform="rotate(-41.1 345.2 213.3)" fill="#daf5fa" stroke="#45b3c6" stroke-width="0.95"/>
<ellipse cx="347.6" cy="209.8" rx="2.55" ry="3.5" transform="rotate(-40.7 347.6 209.8)" fill="#daf5fa" stroke="#45b3c6" stroke-width="0.95"/>
<ellipse cx="350.2" cy="206.4" rx="2.55" ry="3.5" transform="rotate(-37.5 350.2 206.4)" fill="#daf5fa" stroke="#45b3c6" stroke-width="0.95"/>
<ellipse cx="353" cy="203.2" rx="2.55" ry="3.5" transform="rotate(-31.6 353 203.2)" fill="#daf5fa" stroke="#45b3c6" stroke-width="0.95"/>
<ellipse cx="356" cy="200.3" rx="2.55" ry="3.5" transform="rotate(-28.2 356 200.3)" fill="#daf5fa" stroke="#45b3c6" stroke-width="0.95"/>
<ellipse cx="359.3" cy="197.5" rx="2.55" ry="3.5" transform="rotate(-23.8 359.3 197.5)" fill="#daf5fa" stroke="#45b3c6" stroke-width="0.95"/>
<ellipse cx="362.7" cy="195" rx="2.55" ry="3.5" transform="rotate(-20.2 362.7 195)" fill="#daf5fa" stroke="#45b3c6" stroke-width="0.95"/>
<ellipse cx="366.3" cy="192.8" rx="2.55" ry="3.5" transform="rotate(-16.1 366.3 192.8)" fill="#daf5fa" stroke="#45b3c6" stroke-width="0.95"/>
<ellipse cx="370.1" cy="190.8" rx="2.55" ry="3.5" transform="rotate(-9 370.1 190.8)" fill="#daf5fa" stroke="#45b3c6" stroke-width="0.95"/>
<ellipse cx="374" cy="189.3" rx="2.55" ry="3.5" transform="rotate(-5 374 189.3)" fill="#daf5fa" stroke="#45b3c6" stroke-width="0.95"/>
<ellipse cx="378.1" cy="188" rx="2.55" ry="3.5" transform="rotate(-3 378.1 188)" fill="#daf5fa" stroke="#45b3c6" stroke-width="0.95"/>
<ellipse cx="382.2" cy="186.8" rx="2.55" ry="3.5" transform="rotate(-2.6 382.2 186.8)" fill="#daf5fa" stroke="#45b3c6" stroke-width="0.95"/>
<ellipse cx="303.1" cy="264.2" rx="2.55" ry="3.5" transform="rotate(-13.8 303.1 264.2)" fill="#daf5fa" stroke="#45b3c6" stroke-width="0.95"/>
<ellipse cx="306.9" cy="262.3" rx="2.55" ry="3.5" transform="rotate(-11.8 306.9 262.3)" fill="#daf5fa" stroke="#45b3c6" stroke-width="0.95"/>
<ellipse cx="310.7" cy="260.4" rx="2.55" ry="3.5" transform="rotate(-12.3 310.7 260.4)" fill="#daf5fa" stroke="#45b3c6" stroke-width="0.95"/>
<ellipse cx="314.5" cy="258.5" rx="2.55" ry="3.5" transform="rotate(-13.4 314.5 258.5)" fill="#daf5fa" stroke="#45b3c6" stroke-width="0.95"/>
<ellipse cx="318.3" cy="256.5" rx="2.55" ry="3.5" transform="rotate(-15.3 318.3 256.5)" fill="#daf5fa" stroke="#45b3c6" stroke-width="0.95"/>
<ellipse cx="321.9" cy="254.3" rx="2.55" ry="3.5" transform="rotate(-18.2 321.9 254.3)" fill="#daf5fa" stroke="#45b3c6" stroke-width="0.95"/>
<ellipse cx="325.4" cy="251.9" rx="2.55" ry="3.5" transform="rotate(-22.2 325.4 251.9)" fill="#daf5fa" stroke="#45b3c6" stroke-width="0.95"/>
<ellipse cx="328.8" cy="249.3" rx="2.55" ry="3.5" transform="rotate(-25.4 328.8 249.3)" fill="#daf5fa" stroke="#45b3c6" stroke-width="0.95"/>
<ellipse cx="332" cy="246.6" rx="2.55" ry="3.5" transform="rotate(-27.4 332 246.6)" fill="#daf5fa" stroke="#45b3c6" stroke-width="0.95"/>
<ellipse cx="335.2" cy="243.7" rx="2.55" ry="3.5" transform="rotate(-29.1 335.2 243.7)" fill="#daf5fa" stroke="#45b3c6" stroke-width="0.95"/>
<ellipse cx="338.2" cy="240.8" rx="2.55" ry="3.5" transform="rotate(-30.6 338.2 240.8)" fill="#daf5fa" stroke="#45b3c6" stroke-width="0.95"/>
<ellipse cx="341.2" cy="237.8" rx="2.55" ry="3.5" transform="rotate(-31.8 341.2 237.8)" fill="#daf5fa" stroke="#45b3c6" stroke-width="0.95"/>
<ellipse cx="344.1" cy="234.7" rx="2.55" ry="3.5" transform="rotate(-32.9 344.1 234.7)" fill="#daf5fa" stroke="#45b3c6" stroke-width="0.95"/>
<ellipse cx="346.9" cy="231.5" rx="2.55" ry="3.5" transform="rotate(-36.2 346.9 231.5)" fill="#daf5fa" stroke="#45b3c6" stroke-width="0.95"/>
<ellipse cx="349.6" cy="228.1" rx="2.55" ry="3.5" transform="rotate(-39.2 349.6 228.1)" fill="#daf5fa" stroke="#45b3c6" stroke-width="0.95"/>
<ellipse cx="352.1" cy="224.7" rx="2.55" ry="3.5" transform="rotate(-40 352.1 224.7)" fill="#daf5fa" stroke="#45b3c6" stroke-width="0.95"/>
<ellipse cx="354.6" cy="221.3" rx="2.55" ry="3.5" transform="rotate(-39.6 354.6 221.3)" fill="#daf5fa" stroke="#45b3c6" stroke-width="0.95"/>
<ellipse cx="357.1" cy="217.9" rx="2.55" ry="3.5" transform="rotate(-37.8 357.1 217.9)" fill="#daf5fa" stroke="#45b3c6" stroke-width="0.95"/>
<ellipse cx="359.9" cy="214.6" rx="2.55" ry="3.5" transform="rotate(-34.4 359.9 214.6)" fill="#daf5fa" stroke="#45b3c6" stroke-width="0.95"/>
<ellipse cx="362.8" cy="211.6" rx="2.55" ry="3.5" transform="rotate(-30.2 362.8 211.6)" fill="#daf5fa" stroke="#45b3c6" stroke-width="0.95"/>
<ellipse cx="365.9" cy="208.7" rx="2.55" ry="3.5" transform="rotate(-27.3 365.9 208.7)" fill="#daf5fa" stroke="#45b3c6" stroke-width="0.95"/>
<ellipse cx="369.2" cy="205.9" rx="2.55" ry="3.5" transform="rotate(-25 369.2 205.9)" fill="#daf5fa" stroke="#45b3c6" stroke-width="0.95"/>
<ellipse cx="372.6" cy="203.4" rx="2.55" ry="3.5" transform="rotate(-21.2 372.6 203.4)" fill="#daf5fa" stroke="#45b3c6" stroke-width="0.95"/>
<ellipse cx="376.1" cy="201" rx="2.55" ry="3.5" transform="rotate(-18 376.1 201)" fill="#daf5fa" stroke="#45b3c6" stroke-width="0.95"/>
<ellipse cx="379.8" cy="198.9" rx="2.55" ry="3.5" transform="rotate(-11.8 379.8 198.9)" fill="#daf5fa" stroke="#45b3c6" stroke-width="0.95"/>
<ellipse cx="383.7" cy="197.3" rx="2.55" ry="3.5" transform="rotate(-5.6 383.7 197.3)" fill="#daf5fa" stroke="#45b3c6" stroke-width="0.95"/>
<ellipse cx="387.8" cy="196" rx="2.55" ry="3.5" transform="rotate(-3 387.8 196)" fill="#daf5fa" stroke="#45b3c6" stroke-width="0.95"/>
<ellipse cx="391.8" cy="194.8" rx="2.55" ry="3.5" transform="rotate(-3.1 391.8 194.8)" fill="#daf5fa" stroke="#45b3c6" stroke-width="0.95"/>
<path d="M288.2 201.5C291.5 204.2 300.6 213.5 308 218C315.4 222.5 325.9 226.6 332.8 228.7C339.7 230.8 342.4 231.1 349.3 230.6C356.2 230.1 365.4 228.9 374.1 225.4C382.8 221.9 396.8 212.3 401.3 209.7" fill="none" stroke="#ea881d" stroke-width="1.7" stroke-linecap="round"/>
<path d="M296.5 208.9L310.8 189.6M300.2 203.9L298.6 196.1M300.2 203.9L308.1 203.2M302.9 200.3L301.4 193.4M302.9 200.3L309.9 199.7M305.6 196.7L304.2 190.6M305.6 196.7L311.8 196.2M308.2 193.1L307.1 187.8M308.2 193.1L313.6 192.6" fill="none" stroke="#ea881d" stroke-width="1.7" stroke-linecap="round"/>
<path d="M310.2 221.5L298.6 242M307.2 226.8L309.7 234.2M307.2 226.8L299.6 228.4M305 230.7L307.3 237.2M305 230.7L298.2 232.1M302.9 234.5L304.9 240.3M302.9 234.5L296.9 235.7M300.7 238.3L302.4 243.3M300.7 238.3L295.5 239.4" fill="none" stroke="#ea881d" stroke-width="1.7" stroke-linecap="round"/>
<path d="M326.2 226.5L332.9 203M327.9 220.4L323.6 213.6M327.9 220.4L335.2 216.9M329.2 216L325.3 209.9M329.2 216L335.7 212.9M330.4 211.6L327 206.3M330.4 211.6L336.2 208.9M331.7 207.2L328.7 202.6M331.7 207.2L336.7 204.9" fill="none" stroke="#ea881d" stroke-width="1.7" stroke-linecap="round"/>
<path d="M342.7 230.4L342 254.3M342.5 236.6L348.3 242M342.5 236.6L336.5 241.6M342.4 241.1L347.5 245.9M342.4 241.1L337 245.6M342.3 245.5L346.8 249.8M342.3 245.5L337.5 249.5M342.1 250L346.1 253.7M342.1 250L338 253.4" fill="none" stroke="#ea881d" stroke-width="1.7" stroke-linecap="round"/>
<path d="M361.5 229L355.7 204.6M360 222.7L352.7 218.8M360 222.7L364.8 215.9M358.9 218.1L352.4 214.6M358.9 218.1L363.2 212.1M357.8 213.5L352.1 210.5M357.8 213.5L361.6 208.2M356.7 209L351.8 206.3M356.7 209L360 204.4" fill="none" stroke="#ea881d" stroke-width="1.7" stroke-linecap="round"/>
<path d="M376.5 225L387.5 248M379.4 231L387.4 233.3M379.4 231L376.1 238.7M381.4 235.3L388.6 237.3M381.4 235.3L378.5 242.2M383.5 239.6L389.8 241.4M383.5 239.6L380.9 245.7M385.5 243.9L391 245.4M385.5 243.9L383.3 249.1" fill="none" stroke="#ea881d" stroke-width="1.7" stroke-linecap="round"/>
<path d="M393 215.5L380.5 194.7M389.8 210.1L381.9 208.7M389.8 210.1L392.2 202.5M387.4 206.2L380.4 204.9M387.4 206.2L389.6 199.4M385.1 202.3L378.9 201.2M385.1 202.3L387 196.3M382.8 198.4L377.4 197.5M382.8 198.4L384.4 193.2" fill="none" stroke="#ea881d" stroke-width="1.7" stroke-linecap="round"/>
<path d="M147.4 246.6L147.6 247.2L147.9 248L148.2 248.8L148.5 249.8L149 250.8L149.4 251.9L150 253L150.7 254L151.4 255L152.3 255.9L153.5 256.6L154.9 257.1L156.4 257.1L157.9 256.5L159.2 255.5L160.1 254.2L160.9 252.9L161.7 251.4L162.4 249.9L163 248.3L163.7 246.6L164.3 245.1L165 243.6L165.6 242.3L166.3 241.2L166.9 240.5L167.5 240.2L167.7 240.3L167.5 240.7L167.2 240.9L167.3 241.2L167.7 241.8L168.2 242.7L168.8 243.9L169.5 245.2L170.2 246.5L171 247.9L171.9 249.3L173 250.6L174.5 251.6L176.4 252.2L178.4 251.9L180 251L181.3 249.9L182.3 248.6L183.2 247.2L184 245.8L184.8 244.2L185.6 242.6L186.4 241.1L187.2 239.7L188 238.4L188.8 237.4L189.6 236.6L190.3 236.3L190.8 236.4L191 236.7L191.1 237L191.4 237.4L192 238L192.7 238.9L193.4 240L194.3 241.2L195.2 242.5L196.1 243.8L197.2 245L198.5 246.1L200.1 246.9L202.1 247.2L204 246.8L205.6 245.7L206.8 244.5L207.7 243.1L208.5 241.5L209.2 239.9L209.9 238.2L210.5 236.5L211.1 234.8L211.8 233.3L212.4 231.9L213.1 230.8L213.8 230L214.4 229.7L214.8 229.9L214.8 230.2L214.9 230.5L215.2 231L215.8 231.7L216.6 232.7L217.4 233.9L218.2 235.3L219.2 236.7L220.2 238.1L221.3 239.5L222.5 240.8L224.1 241.8L226 242.3L228.1 242.1L229.8 241.2L231 240L232 238.7L232.8 237.3L233.5 235.7L234.1 234.2L234.7 232.6L235.3 231L236 229.5L236.6 228.2L237.3 227.2L238 226.5L238.6 226.2L239.1 226.2L239.6 226.3L240.2 226.5L241 226.7L242 227.2L243.1 227.8L244.3 228.6L245.5 229.4L246.7 230.4L247.9 231.3L249 232.3L250.2 233.1L251.2 233.9L252.2 234.5L253.1 234.9L253.3 234.7L252.8 233.9L252.2 233L251.5 231.9L250.8 230.7L249.9 229.4L249 228.1L248 226.8L247 225.5L245.8 224.4L244.5 223.3L243.2 222.3L241.6 221.7L239.9 221.3L238.1 221.6L236.5 222.4L235.2 223.7L234.2 225L233.4 226.5L232.7 228L232 229.6L231.4 231.2L230.8 232.8L230.2 234.3L229.5 235.6L228.9 236.6L228.2 237.2L227.7 237.4L227.3 237.3L227.3 237L227.2 236.6L226.8 236.1L226.2 235.4L225.4 234.3L224.6 233.1L223.8 231.7L222.8 230.3L221.8 228.9L220.7 227.5L219.4 226.3L217.8 225.3L215.9 224.8L213.8 225.1L212.2 226.1L210.9 227.3L210 228.7L209.2 230.2L208.5 231.8L207.8 233.5L207.2 235.2L206.5 236.9L205.9 238.5L205.2 239.9L204.5 241.1L203.8 241.9L203.2 242.3L202.8 242.2L202.6 241.9L202.6 241.6L202.4 241.3L201.9 240.6L201.2 239.8L200.5 238.7L199.6 237.5L198.8 236.2L197.8 234.9L196.7 233.7L195.3 232.6L193.7 231.7L191.8 231.3L189.8 231.6L188.2 232.5L186.9 233.6L185.8 234.9L184.8 236.4L184 237.9L183.1 239.4L182.3 241L181.6 242.5L180.8 244L180 245.3L179.3 246.3L178.5 247L177.9 247.2L177.6 247.1L177.6 246.8L177.8 246.5L177.6 246.2L177.2 245.5L176.6 244.6L176 243.4L175.4 242.2L174.7 240.8L174 239.5L173.1 238.1L172 236.9L170.6 235.8L168.6 235.3L166.7 235.7L165.1 236.7L164 237.8L163.1 239.1L162.4 240.6L161.7 242.1L161 243.7L160.3 245.3L159.7 246.9L159.1 248.5L158.4 249.8L157.8 251L157.1 251.9L156.5 252.4L156.1 252.5L155.9 252.4L155.7 252.3L155.5 252.2L155 252L154.4 251.7L153.7 251.2L152.9 250.6L152.1 249.9L151.3 249.2L150.5 248.4L149.7 247.7L149 247.1L148.2 246.7L147.6 246.4Z" fill="#3aa0e2" stroke="#1f70b0" stroke-width="0.9" stroke-linejoin="round"/>
<path d="M153.8 262.3L154.4 262.8L155.1 263.5L155.9 264.3L156.8 265.1L157.7 266L158.8 266.9L159.9 267.8L161 268.7L162.2 269.4L163.5 270L164.8 270.4L166.3 270.5L167.7 270.2L169 269.3L170 268.1L170.6 266.7L171 265.2L171.3 263.6L171.4 261.9L171.5 260.1L171.5 258.4L171.6 256.6L171.7 255L171.8 253.4L172.1 252.1L172.5 251L173 250.3L173.5 250L173.9 250.1L174.3 250.3L174.9 250.6L175.7 251.1L176.7 251.7L177.8 252.5L179.1 253.3L180.4 254.2L181.7 255.1L183.1 255.8L184.6 256.4L186.3 256.6L188 256.3L189.4 255.5L190.5 254.2L191.2 252.9L191.7 251.4L192 249.8L192.2 248.2L192.3 246.5L192.4 244.8L192.5 243.1L192.6 241.5L192.7 240L192.9 238.6L193.2 237.6L193.6 236.8L194.1 236.5L194.4 236.5L194.6 236.7L194.8 237L195.3 237.3L196 237.8L196.8 238.4L197.7 239.1L198.8 239.9L199.9 240.6L201.2 241.2L202.6 241.7L204.1 241.7L205.7 241.3L207 240.4L208.1 239.2L208.8 237.8L209.5 236.4L210 234.8L210.4 233.2L210.7 231.5L211.1 229.8L211.4 228.1L211.8 226.5L212.2 225L212.7 223.8L213.2 222.7L213.8 222L214.4 221.7L214.9 221.7L215.3 221.9L215.7 222.2L216.4 222.6L217.2 223.1L218.1 223.8L219.1 224.6L220.1 225.5L221.3 226.3L222.5 227.1L223.9 227.7L225.4 228L227 227.8L228.5 227.1L229.7 226.1L230.5 224.8L231.1 223.5L231.5 222.2L231.8 220.7L232.1 219.3L232.4 217.8L232.6 216.4L232.9 215L233.2 213.7L233.6 212.6L234.1 211.8L234.7 211.2L235.4 210.8L236.1 210.6L237 210.4L237.9 210.3L239 210.3L240.2 210.4L241.4 210.7L242.7 210.9L244 211.2L245.3 211.6L246.6 211.9L247.8 212.2L248.9 212.4L249.9 212.6L250.8 212.6L250.8 212.4L250.1 212L249.3 211.5L248.3 210.9L247.3 210.3L246.1 209.6L244.9 209L243.6 208.4L242.3 207.8L240.9 207.3L239.5 207L238 206.8L236.5 206.8L235 207.1L233.6 207.8L232.4 208.8L231.6 210.1L230.9 211.4L230.4 212.9L230.1 214.3L229.8 215.8L229.5 217.3L229.3 218.8L229 220.1L228.7 221.4L228.3 222.4L227.9 223.2L227.4 223.7L226.9 223.9L226.5 223.8L226.2 223.6L225.7 223.3L225 222.8L224.2 222.2L223.3 221.5L222.2 220.7L221.1 219.8L219.9 219L218.7 218.3L217.2 217.7L215.7 217.6L214 217.9L212.6 218.7L211.4 219.9L210.6 221.2L209.9 222.6L209.4 224.2L209 225.8L208.6 227.5L208.2 229.2L207.9 230.9L207.6 232.5L207.2 234L206.7 235.3L206.2 236.4L205.6 237.2L205 237.6L204.5 237.7L204.2 237.5L203.8 237.2L203.3 236.9L202.5 236.4L201.7 235.8L200.8 235.1L199.8 234.3L198.7 233.6L197.5 233L196.2 232.5L194.7 232.5L193.1 233L191.9 233.9L191 235.2L190.5 236.6L190.1 238.1L189.8 239.6L189.7 241.3L189.6 243L189.6 244.7L189.5 246.3L189.4 247.9L189.2 249.4L188.9 250.6L188.5 251.6L188.1 252.3L187.6 252.5L187.1 252.5L186.7 252.2L186.1 251.9L185.3 251.5L184.3 250.8L183.2 250.1L181.9 249.2L180.6 248.3L179.3 247.5L177.9 246.7L176.3 246.2L174.7 246L173 246.3L171.5 247.2L170.5 248.4L169.8 249.9L169.3 251.4L169 253L168.8 254.7L168.7 256.5L168.7 258.3L168.6 260L168.5 261.7L168.4 263.3L168.2 264.6L167.9 265.7L167.4 266.4L167 266.7L166.5 266.7L166.1 266.8L165.4 266.7L164.6 266.6L163.6 266.3L162.5 265.9L161.4 265.4L160.2 264.8L159 264.2L157.8 263.6L156.7 263.1L155.7 262.6L154.7 262.3L154 262.1Z" fill="#edf9fe" stroke="#3f9ad0" stroke-width="0.9" stroke-linejoin="round"/>
<path d="M140.4 243.2L140.8 243.8L141.2 244.6L141.7 245.5L142.2 246.5L142.9 247.5L143.6 248.6L144.4 249.7L145.3 250.7L146.3 251.7L147.5 252.5L148.8 253.1L150.4 253.4L152 253.2L153.6 252.5L154.9 251.3L155.9 249.8L156.8 248.3L157.5 246.6L158.2 244.8L158.8 243L159.5 241.1L160.1 239.3L160.7 237.6L161.4 236.1L162 234.7L162.7 233.8L163.4 233.2L163.9 233.2L163.9 233.5L163.7 233.8L163.8 234.1L164.2 234.7L164.8 235.5L165.5 236.6L166.3 237.9L167.2 239.2L168.1 240.5L169.2 241.8L170.6 243L172.4 243.8L174.5 243.9L176.4 243.2L177.9 241.9L179 240.5L180 239L180.8 237.2L181.6 235.4L182.3 233.5L183 231.6L183.7 229.7L184.4 227.9L185.1 226.2L185.9 224.8L186.6 223.8L187.3 223.2L187.8 223.2L187.8 223.6L187.6 223.9L187.8 224.2L188.2 224.9L188.9 225.8L189.6 227L190.4 228.4L191.2 229.8L192.2 231.2L193.2 232.6L194.5 233.8L196.3 234.7L198.5 234.9L200.5 234.1L201.9 232.8L202.9 231.4L203.8 229.7L204.5 228L205.1 226.1L205.7 224.1L206.3 222.1L206.9 220.1L207.5 218.1L208.2 216.4L208.9 214.8L209.6 213.6L210.4 212.8L211.1 212.4L211.6 212.5L211.9 212.8L212.3 213.1L212.8 213.6L213.6 214.2L214.5 215L215.5 216L216.6 217L217.8 218L219 219L220.5 219.8L222.2 220.3L224.1 220.3L225.9 219.7L227.3 218.5L228.2 217.1L228.9 215.7L229.3 214.2L229.7 212.6L230 211L230.3 209.5L230.6 207.9L230.9 206.6L231.2 205.3L231.7 204.4L232.2 203.8L232.6 203.7L233 203.8L233.5 203.9L234.4 204L235.4 204.3L236.7 204.8L238.1 205.4L239.6 206.2L241.1 207.1L242.7 208L244.2 209L245.7 209.9L247.1 210.7L248.5 211.5L249.7 212L250.7 212.4L250.9 212.2L250.1 211.4L249.3 210.4L248.3 209.3L247.2 208L246 206.8L244.7 205.4L243.3 204.1L241.9 202.9L240.4 201.7L238.9 200.6L237.3 199.7L235.6 199.1L233.9 198.7L232 199L230.3 199.9L229.1 201.2L228.3 202.6L227.8 204.1L227.3 205.7L227 207.2L226.7 208.8L226.4 210.4L226.2 211.9L225.8 213.2L225.4 214.3L225 215L224.5 215.4L224.1 215.3L223.9 215.1L223.8 214.8L223.4 214.4L222.8 213.8L222 213.1L221 212.2L220 211.2L218.8 210.2L217.5 209.1L216.1 208.2L214.4 207.6L212.6 207.3L210.6 207.6L208.9 208.6L207.5 209.9L206.4 211.4L205.5 213.2L204.7 215L204 217L203.4 219L202.8 221L202.2 223L201.6 224.9L201 226.6L200.4 228.1L199.7 229.2L199 229.8L198.5 229.9L198.5 229.5L198.9 229.2L198.8 228.9L198.4 228.3L197.8 227.4L197.1 226.2L196.3 224.9L195.4 223.4L194.5 222L193.4 220.6L192.1 219.4L190.4 218.4L188.2 218.1L186.2 218.8L184.6 220L183.5 221.4L182.6 222.9L181.7 224.6L180.9 226.4L180.2 228.3L179.5 230.3L178.8 232.2L178.1 234L177.4 235.7L176.6 237.1L175.9 238.1L175.1 238.8L174.6 238.8L174.5 238.5L174.6 238.2L174.5 237.9L174.1 237.3L173.5 236.5L172.8 235.4L172 234.2L171.2 232.9L170.2 231.6L169.2 230.3L167.9 229.1L166.2 228.3L164.1 228.1L162.1 228.8L160.7 230L159.6 231.4L158.7 232.9L157.9 234.5L157.2 236.3L156.6 238.1L156 240L155.3 241.8L154.7 243.5L154.1 245.1L153.4 246.5L152.7 247.6L152 248.3L151.4 248.5L151 248.6L150.6 248.5L150.2 248.5L149.6 248.3L148.8 248L147.9 247.5L147 246.9L146 246.3L145 245.6L144.1 244.8L143.1 244.2L142.2 243.6L141.3 243.2L140.6 243Z" fill="#1f9a80" stroke="#126f5e" stroke-width="0.9" stroke-linejoin="round"/>
<path d="M138.6 221.7L138.9 222.4L139.3 223.3L139.7 224.3L140.2 225.4L140.7 226.6L141.3 227.8L142.1 229L142.8 230.2L143.7 231.4L144.8 232.4L146 233.3L147.5 233.9L149.1 234.2L150.9 233.8L152.4 232.9L153.6 231.7L154.6 230.3L155.5 228.8L156.3 227.3L157.1 225.7L157.8 224L158.6 222.4L159.3 221L160.1 219.7L160.8 218.7L161.5 218L162.1 217.8L162.3 218.1L162 218.4L161.9 218.6L162.1 219.1L162.6 219.9L163.2 221L163.8 222.3L164.5 223.8L165.2 225.3L166 226.9L166.8 228.4L167.9 229.8L169.3 231L171.3 231.7L173.5 231.5L175.1 230.4L176.2 229.1L177.1 227.7L177.8 226.2L178.4 224.6L179 222.9L179.6 221.1L180.2 219.4L180.8 217.8L181.5 216.3L182.1 215L182.8 214.1L183.4 213.7L183.8 213.8L183.7 214.1L183.6 214.4L183.8 214.8L184.3 215.4L185 216.3L185.7 217.3L186.5 218.6L187.4 219.8L188.4 221.1L189.5 222.4L190.8 223.5L192.5 224.3L194.5 224.4L196.4 223.6L197.8 222.4L198.8 221L199.6 219.5L200.3 217.9L200.9 216.1L201.4 214.3L202 212.4L202.5 210.6L203 208.8L203.5 207.2L204.1 205.8L204.7 204.7L205.2 204L205.6 203.9L205.6 204.3L205 204.6L204.8 204.8L205 205.2L205.4 205.9L206 206.8L206.6 207.9L207.3 209.1L208.1 210.3L209 211.4L210.3 212.5L212.1 213.1L214.3 212.8L215.8 211.7L216.8 210.3L217.6 208.8L218.2 207.2L218.7 205.4L219.1 203.5L219.6 201.6L220 199.6L220.4 197.6L220.9 195.7L221.4 193.9L222 192.4L222.6 191.1L223.3 190.2L224 189.8L224.7 189.5L225.3 189.5L226.1 189.4L227 189.6L228.1 189.8L229.2 190.1L230.5 190.6L231.7 191.1L233 191.7L234.3 192.3L235.5 192.8L236.6 193.2L237.7 193.5L238.6 193.6L238.6 193.4L238 192.8L237.3 192.1L236.5 191.3L235.6 190.3L234.5 189.4L233.4 188.4L232.2 187.5L230.9 186.6L229.6 185.8L228.1 185.2L226.5 184.9L224.8 184.9L223.1 185.3L221.6 186.2L220.3 187.6L219.3 189.2L218.5 190.9L217.9 192.8L217.3 194.7L216.9 196.8L216.4 198.8L216 200.8L215.6 202.7L215.2 204.5L214.7 206L214.2 207.3L213.7 208.1L213.2 208.3L213.2 208L213.8 207.5L214.2 207.4L214.1 207.1L213.7 206.4L213.1 205.5L212.5 204.5L211.8 203.3L211 202.1L210.1 200.9L208.9 199.8L207.2 199.1L205.1 199.1L203.4 200.1L202.2 201.4L201.3 202.8L200.6 204.3L200 206L199.5 207.7L198.9 209.6L198.4 211.4L197.9 213.2L197.4 215L196.8 216.5L196.2 217.8L195.6 218.8L195 219.4L194.6 219.4L194.6 219L194.8 218.7L194.7 218.4L194.3 217.9L193.7 217L192.9 216L192.1 214.7L191.2 213.5L190.3 212.2L189.2 210.9L187.9 209.8L186.2 208.9L184.2 208.7L182.2 209.2L180.7 210.4L179.6 211.7L178.8 213.1L178 214.7L177.4 216.4L176.7 218.2L176.1 219.9L175.6 221.6L175 223.2L174.4 224.7L173.7 225.8L173.1 226.6L172.7 226.8L172.5 226.5L172.9 226.2L173.3 226L173.1 225.6L172.7 224.8L172.1 223.7L171.5 222.4L170.8 220.9L170.1 219.4L169.3 217.8L168.4 216.3L167.3 214.9L165.9 213.6L163.9 212.8L161.7 212.9L160 213.8L158.7 215L157.7 216.3L156.8 217.7L156 219.2L155.2 220.8L154.4 222.4L153.7 224L152.9 225.5L152.2 226.9L151.4 228L150.7 228.8L150 229.2L149.5 229.2L149.2 229.1L148.9 229L148.4 228.8L147.7 228.5L146.9 228L146 227.3L145 226.6L144.1 225.7L143.1 224.8L142.2 223.9L141.3 223.1L140.4 222.4L139.5 221.9L138.8 221.5Z" fill="#1f9a80" stroke="#126f5e" stroke-width="0.9" stroke-linejoin="round"/>
</svg>
</body></html>
